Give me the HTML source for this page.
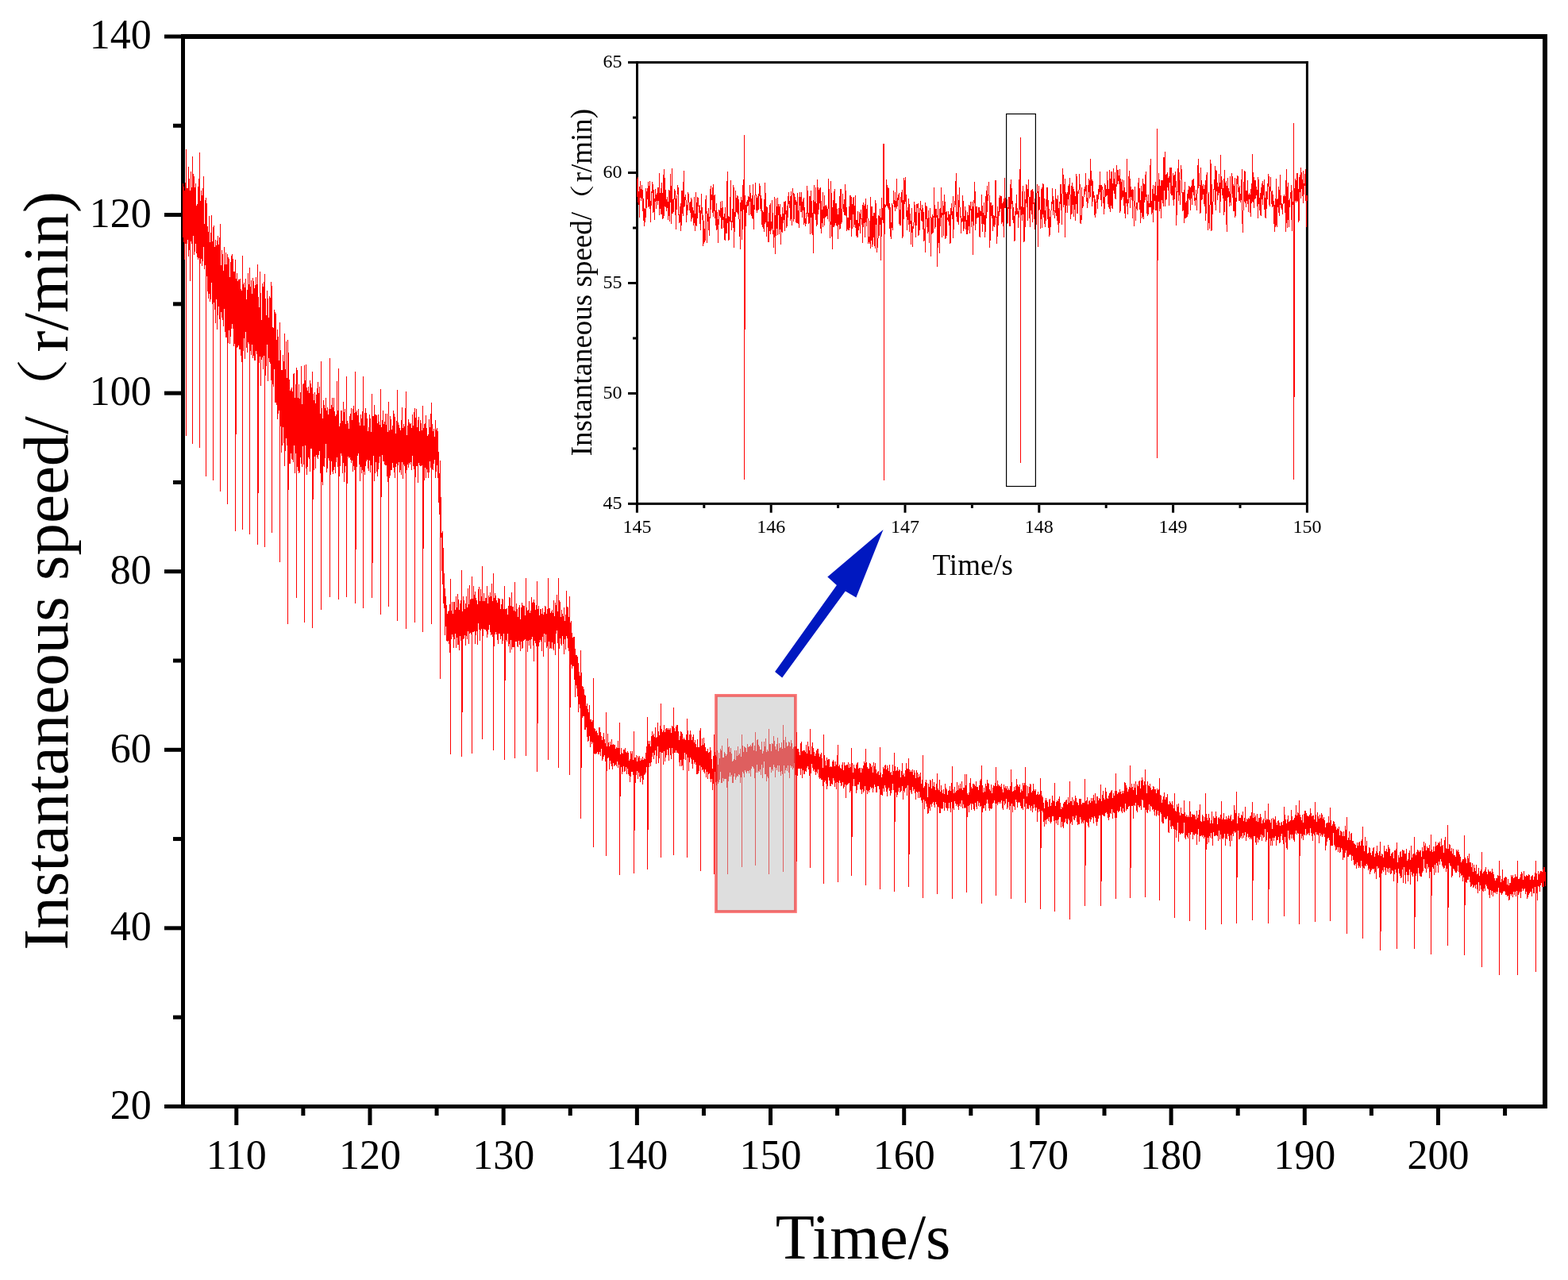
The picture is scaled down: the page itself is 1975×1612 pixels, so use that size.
<!DOCTYPE html>
<html><head><meta charset="utf-8"><title>Instantaneous speed</title><style>html,body{margin:0;padding:0;background:#fff;overflow:hidden}svg{display:block}text{font-family:"Liberation Serif","Noto Serif CJK SC",serif;fill:#000}</style></head><body>
<svg width="1975" height="1612" viewBox="0 0 1975 1612">
<rect width="1975" height="1612" fill="#fff"/>
<g fill="#000"><rect x="228" y="43" width="5" height="1353"/><rect x="1943" y="43" width="6" height="1353"/><rect x="228" y="43" width="1721" height="6"/><rect x="228" y="1391" width="1721" height="5"/><rect x="207" y="1390.92" width="21" height="5"/><rect x="218" y="1278.63" width="10" height="5"/><rect x="207" y="1166.35" width="21" height="5"/><rect x="218" y="1054.07" width="10" height="5"/><rect x="207" y="941.78" width="21" height="5"/><rect x="218" y="829.50" width="10" height="5"/><rect x="207" y="717.21" width="21" height="5"/><rect x="218" y="604.93" width="10" height="5"/><rect x="207" y="492.64" width="21" height="5"/><rect x="218" y="380.36" width="10" height="5"/><rect x="207" y="268.07" width="21" height="5"/><rect x="218" y="155.78" width="10" height="5"/><rect x="207" y="43.50" width="21" height="5"/><rect x="295.28" y="1396" width="5" height="21"/><rect x="379.37" y="1396" width="5" height="9"/><rect x="463.47" y="1396" width="5" height="21"/><rect x="547.56" y="1396" width="5" height="9"/><rect x="631.66" y="1396" width="5" height="21"/><rect x="715.75" y="1396" width="5" height="9"/><rect x="799.85" y="1396" width="5" height="21"/><rect x="883.94" y="1396" width="5" height="9"/><rect x="968.04" y="1396" width="5" height="21"/><rect x="1052.13" y="1396" width="5" height="9"/><rect x="1136.23" y="1396" width="5" height="21"/><rect x="1220.32" y="1396" width="5" height="9"/><rect x="1304.42" y="1396" width="5" height="21"/><rect x="1388.51" y="1396" width="5" height="9"/><rect x="1472.61" y="1396" width="5" height="21"/><rect x="1556.70" y="1396" width="5" height="9"/><rect x="1640.80" y="1396" width="5" height="21"/><rect x="1724.89" y="1396" width="5" height="9"/><rect x="1808.99" y="1396" width="5" height="21"/><rect x="1893.08" y="1396" width="5" height="9"/></g>
<g fill="none" stroke="#f00" stroke-width="1" shape-rendering="crispEdges"><path d="M230.5 231V299M231.5 235V305M232.5 240V327M233.5 230V307M234.5 229V312M235.5 237V307M236.5 237V302M237.5 210V323M238.5 225V315M239.5 240V354M240.5 216V304M241.5 236V307M242.5 227V305M243.5 219V297M244.5 222V321M245.5 236V317M246.5 231V307M247.5 259V319M248.5 257V324M249.5 235V327M250.5 225V325M251.5 275V321M252.5 253V332M253.5 240V326M254.5 246V335M255.5 237V329M256.5 222V311M257.5 282V339M258.5 252V334M259.5 256V355M260.5 256V348M261.5 285V367M262.5 292V376M263.5 272V370M264.5 305V380M265.5 293V377M266.5 271V356M267.5 304V383M268.5 306V368M269.5 284V381M270.5 311V390M271.5 302V407M272.5 309V377M273.5 303V415M274.5 297V397M275.5 308V386M276.5 299V402M277.5 305V391M278.5 334V393M279.5 315V400M280.5 320V403M281.5 341V411M282.5 311V389M283.5 333V418M284.5 318V425M285.5 333V425M286.5 335V425M287.5 324V432M288.5 326V416M289.5 349V433M290.5 330V424M291.5 322V414M292.5 320V408M293.5 326V414M294.5 342V436M295.5 342V433M296.5 366V428M297.5 351V416M298.5 344V438M299.5 354V437M300.5 352V435M301.5 352V440M302.5 351V440M303.5 364V448M304.5 366V456M305.5 348V442M306.5 358V442M307.5 356V426M308.5 362V452M309.5 351V418M310.5 377V438M311.5 365V444M312.5 344V431M313.5 358V433M314.5 368V460M315.5 361V442M316.5 353V447M317.5 370V434M318.5 350V451M319.5 354V448M320.5 363V454M321.5 359V454M322.5 349V442M323.5 358V446M324.5 356V429M325.5 374V480M326.5 387V457M327.5 342V449M328.5 369V486M329.5 403V453M330.5 357V450M331.5 361V465M332.5 355V448M333.5 389V454M334.5 376V473M335.5 397V461M336.5 366V434M337.5 376V480M338.5 400V451M339.5 373V456M340.5 375V458M341.5 355V479M342.5 390V468M343.5 412V484M344.5 413V487M345.5 390V465M346.5 393V507M347.5 395V507M348.5 428V510M349.5 415V528M350.5 424V521M351.5 454V517M352.5 426V541M353.5 441V537M354.5 466V570M355.5 466V561M356.5 447V538M357.5 455V558M358.5 420V587M359.5 465V568M360.5 430V552M361.5 476V561M362.5 468V559M363.5 444V572M364.5 478V584M365.5 492V584M366.5 490V571M367.5 488V578M368.5 493V579M369.5 471V582M370.5 470V561M371.5 501V596M372.5 484V571M373.5 478V582M374.5 466V588M375.5 501V593M376.5 484V596M377.5 502V595M378.5 494V576M379.5 461V584M380.5 509V588M381.5 484V562M382.5 483V585M383.5 468V601M384.5 479V561M385.5 459V590M386.5 488V598M387.5 492V588M388.5 487V576M389.5 495V578M390.5 479V594M391.5 483V565M392.5 488V565M393.5 504V580M394.5 496V596M395.5 504V592M396.5 494V575M397.5 508V590M398.5 497V573M399.5 489V576M400.5 481V578M401.5 495V573M402.5 487V568M403.5 521V596M404.5 493V577M405.5 514V607M406.5 527V611M407.5 504V587M408.5 510V588M409.5 514V577M410.5 501V559M411.5 517V595M412.5 513V590M413.5 522V577M414.5 515V580M415.5 501V553M416.5 515V598M417.5 510V581M418.5 501V594M419.5 513V597M420.5 501V592M421.5 518V588M422.5 524V596M423.5 522V582M424.5 480V576M425.5 517V588M426.5 517V602M427.5 537V600M428.5 533V587M429.5 517V571M430.5 517V574M431.5 530V596M432.5 506V583M433.5 519V607M434.5 515V595M435.5 534V587M436.5 542V592M437.5 530V609M438.5 533V575M439.5 540V577M440.5 524V576M441.5 521V579M442.5 514V583M443.5 529V580M444.5 515V594M445.5 511V587M446.5 520V592M447.5 523V587M448.5 519V594M449.5 517V588M450.5 523V574M451.5 515V571M452.5 532V585M453.5 536V606M454.5 522V588M455.5 527V596M456.5 518V592M457.5 546V594M458.5 536V594M459.5 520V598M460.5 514V587M461.5 520V581M462.5 527V579M463.5 543V590M464.5 538V593M465.5 522V580M466.5 527V595M467.5 544V586M468.5 537V607M469.5 524V580M470.5 524V574M471.5 510V606M472.5 522V596M473.5 522V582M474.5 523V594M475.5 533V600M476.5 522V591M477.5 531V583M478.5 535V575M479.5 539V601M480.5 538V599M481.5 529V573M482.5 517V581M483.5 534V581M484.5 531V585M485.5 521V586M486.5 535V586M487.5 521V600M488.5 544V607M489.5 526V592M490.5 542V602M491.5 524V599M492.5 528V592M493.5 541V592M494.5 536V583M495.5 517V589M496.5 521V595M497.5 525V602M498.5 546V588M499.5 530V584M500.5 554V589M501.5 532V586M502.5 535V582M503.5 539V595M504.5 542V592M505.5 529V598M506.5 513V582M507.5 539V603M508.5 534V585M509.5 537V587M510.5 514V596M511.5 524V602M512.5 548V592M513.5 536V585M514.5 528V589M515.5 532V583M516.5 534V585M517.5 533V582M518.5 539V592M519.5 522V574M520.5 536V587M521.5 519V591M522.5 539V590M523.5 526V601M524.5 515V587M525.5 538V587M526.5 529V608M527.5 525V583M528.5 543V586M529.5 529V587M530.5 533V587M531.5 542V586M532.5 538V585M533.5 539V585M534.5 534V605M535.5 533V589M536.5 523V602M537.5 539V591M538.5 549V595M539.5 547V602M540.5 528V595M541.5 538V581M542.5 521V589M543.5 527V584M544.5 534V591M545.5 543V592M546.5 540V584M547.5 550V579M548.5 529V602M549.5 541V594M550.5 539V586M551.5 543V602M552.5 569V633M553.5 596V648M554.5 605V666M555.5 626V677M556.5 671V719M557.5 669V736M558.5 690V760M559.5 722V766M560.5 741V800M561.5 751V789M562.5 762V807M563.5 773V808M564.5 770V807M565.5 769V811M566.5 761V822M567.5 763V815M568.5 769V805M569.5 758V799M570.5 773V802M571.5 758V816M572.5 758V805M573.5 768V798M574.5 751V816M575.5 765V803M576.5 748V812M577.5 755V812M578.5 768V819M579.5 760V801M580.5 756V807M581.5 748V799M582.5 770V807M583.5 751V805M584.5 756V804M585.5 767V800M586.5 760V813M587.5 751V801M588.5 765V805M589.5 741V795M590.5 761V811M591.5 737V798M592.5 755V797M593.5 754V799M594.5 759V815M595.5 754V796M596.5 738V796M597.5 749V795M598.5 745V811M599.5 753V800M600.5 756V795M601.5 761V812M602.5 742V785M603.5 739V793M604.5 757V807M605.5 742V794M606.5 751V792M607.5 757V813M608.5 757V801M609.5 747V792M610.5 757V793M611.5 753V793M612.5 753V795M613.5 738V803M614.5 760V799M615.5 750V793M616.5 752V787M617.5 746V796M618.5 751V800M619.5 735V799M620.5 757V802M621.5 763V792M622.5 753V814M623.5 747V799M624.5 750V796M625.5 756V799M626.5 759V806M627.5 753V811M628.5 754V798M629.5 754V798M630.5 767V805M631.5 761V801M632.5 754V811M633.5 755V807M634.5 767V798M635.5 767V798M636.5 767V813M637.5 767V806M638.5 766V808M639.5 774V798M640.5 763V814M641.5 752V811M642.5 753V822M643.5 763V806M644.5 746V818M645.5 764V815M646.5 764V815M647.5 769V815M648.5 778V828M649.5 770V808M650.5 760V808M651.5 767V814M652.5 777V815M653.5 765V807M654.5 762V812M655.5 780V820M656.5 765V808M657.5 759V817M658.5 762V816M659.5 763V807M660.5 763V806M661.5 775V805M662.5 764V802M663.5 765V807M664.5 769V821M665.5 768V807M666.5 757V813M667.5 772V806M668.5 769V817M669.5 752V805M670.5 759V802M671.5 758V813M672.5 755V833M673.5 759V807M674.5 768V810M675.5 762V814M676.5 761V815M677.5 767V817M678.5 763V814M679.5 775V809M680.5 767V806M681.5 767V808M682.5 773V820M683.5 766V802M684.5 774V827M685.5 771V798M686.5 763V809M687.5 764V799M688.5 773V816M689.5 767V814M690.5 764V796M691.5 766V808M692.5 766V817M693.5 772V816M694.5 770V817M695.5 768V809M696.5 772V817M697.5 756V819M698.5 776V811M699.5 759V825M700.5 762V798M701.5 749V794M702.5 770V810M703.5 755V802M704.5 756V817M705.5 758V804M706.5 777V811M707.5 768V813M708.5 773V801M709.5 776V811M710.5 765V824M711.5 782V805M712.5 774V818M713.5 744V801M714.5 764V804M715.5 765V816M716.5 777V820M717.5 773V825M718.5 784V825M719.5 782V837M720.5 797V842M721.5 803V839M722.5 802V839M723.5 802V856M724.5 817V878M725.5 825V863M726.5 825V867M727.5 827V877M728.5 835V897M729.5 846V887M730.5 851V892M731.5 850V894M732.5 847V903M733.5 864V904M734.5 865V902M735.5 868V902M736.5 875V919M737.5 876V919M738.5 889V916M739.5 886V928M740.5 893V934M741.5 897V933M742.5 888V927M743.5 906V941M744.5 906V934M745.5 909V937M746.5 907V935M747.5 915V943M748.5 917V949M749.5 918V950M750.5 921V949M751.5 920V949M752.5 923V947M753.5 926V950M754.5 916V950M755.5 916V947M756.5 922V952M757.5 927V943M758.5 932V958M759.5 928V956M760.5 923V953M761.5 931V951M762.5 936V959M763.5 938V965M764.5 940V971M765.5 924V955M766.5 935V954M767.5 940V969M768.5 934V958M769.5 938V962M770.5 931V965M771.5 938V969M772.5 937V961M773.5 938V965M774.5 938V964M775.5 943V963M776.5 941V965M777.5 942V959M778.5 933V967M779.5 942V963M780.5 938V958M781.5 950V973M782.5 942V966M783.5 948V975M784.5 949V972M785.5 944V965M786.5 944V972M787.5 942V971M788.5 947V966M789.5 948V975M790.5 946V968M791.5 948V975M792.5 958V977M793.5 956V985M794.5 946V978M795.5 949V972M796.5 946V972M797.5 957V976M798.5 954V972M799.5 954V979M800.5 954V986M801.5 951V976M802.5 959V971M803.5 952V981M804.5 954V973M805.5 952V978M806.5 958V985M807.5 955V977M808.5 957V980M809.5 953V988M810.5 957V982M811.5 955V976M812.5 956V975M813.5 948V973M814.5 940V966M815.5 951V976M816.5 933V965M817.5 937V966M818.5 933V961M819.5 940V965M820.5 927V960M821.5 921V953M822.5 926V948M823.5 924V956M824.5 928V951M825.5 916V945M826.5 929V962M827.5 928V952M828.5 910V940M829.5 921V961M830.5 926V955M831.5 914V947M832.5 924V953M833.5 918V948M834.5 922V948M835.5 920V963M836.5 913V946M837.5 922V959M838.5 918V954M839.5 917V951M840.5 917V944M841.5 919V951M842.5 917V958M843.5 919V942M844.5 917V951M845.5 923V956M846.5 914V942M847.5 915V949M848.5 913V944M849.5 917V948M850.5 921V948M851.5 915V945M852.5 913V948M853.5 913V948M854.5 921V949M855.5 932V960M856.5 927V965M857.5 921V957M858.5 922V965M859.5 924V964M860.5 931V970M861.5 929V956M862.5 931V948M863.5 932V957M864.5 925V950M865.5 928V958M866.5 920V954M867.5 932V971M868.5 925V960M869.5 920V954M870.5 925V956M871.5 932V962M872.5 928V968M873.5 925V957M874.5 935V962M875.5 932V960M876.5 937V963M877.5 941V975M878.5 931V975M879.5 941V974M880.5 941V971M881.5 920V964M882.5 940V970M883.5 939V966M884.5 930V970M885.5 938V969M886.5 929V972M887.5 936V974M888.5 941V969M889.5 946V979M890.5 946V972M891.5 943V981M892.5 948V975M893.5 947V974M894.5 941V981M895.5 945V985M896.5 956V981M897.5 968V995M898.5 952V987M899.5 944V980M900.5 947V972M901.5 951V985M902.5 953V989M903.5 945V984M904.5 963V987M905.5 948V985M906.5 955V982M907.5 943V972M908.5 945V986M909.5 939V986M910.5 954V980M911.5 954V984M912.5 947V981M913.5 949V981M914.5 952V981M915.5 950V992M916.5 951V989M917.5 941V984M918.5 940V978M919.5 947V973M920.5 942V978M921.5 949V976M922.5 959V986M923.5 958V986M924.5 956V978M925.5 945V974M926.5 957V982M927.5 945V979M928.5 952V977M929.5 940V978M930.5 951V975M931.5 949V976M932.5 943V986M933.5 953V979M934.5 944V977M935.5 939V972M936.5 947V974M937.5 940V979M938.5 941V970M939.5 942V972M940.5 947V974M941.5 937V971M942.5 941V971M943.5 940V974M944.5 940V970M945.5 938V978M946.5 940V968M947.5 936V965M948.5 935V966M949.5 945V968M950.5 939V980M951.5 942V964M952.5 946V973M953.5 932V963M954.5 931V973M955.5 938V971M956.5 940V972M957.5 944V969M958.5 944V976M959.5 934V963M960.5 949V980M961.5 946V967M962.5 934V959M963.5 940V975M964.5 930V975M965.5 947V984M966.5 944V978M967.5 946V980M968.5 944V979M969.5 937V966M970.5 937V966M971.5 946V973M972.5 936V969M973.5 937V971M974.5 927V963M975.5 933V966M976.5 940V979M977.5 944V967M978.5 937V970M979.5 929V964M980.5 946V972M981.5 936V964M982.5 942V972M983.5 941V977M984.5 935V971M985.5 943V975M986.5 944V963M987.5 932V964M988.5 942V974M989.5 928V970M990.5 935V967M991.5 940V971M992.5 939V964M993.5 934V973M994.5 935V980M995.5 940V964M996.5 932V967M997.5 936V965M998.5 943V969M999.5 941V967M1000.5 940V961M1001.5 940V976M1002.5 940V976M1003.5 939V977M1004.5 943V977M1005.5 943V968M1006.5 947V968M1007.5 951V968M1008.5 936V976M1009.5 934V968M1010.5 946V980M1011.5 945V970M1012.5 945V975M1013.5 945V975M1014.5 947V971M1015.5 938V972M1016.5 949V967M1017.5 934V965M1018.5 940V969M1019.5 945V977M1020.5 944V977M1021.5 950V974M1022.5 940V962M1023.5 935V967M1024.5 942V971M1025.5 947V969M1026.5 952V972M1027.5 949V976M1028.5 945V972M1029.5 943V974M1030.5 943V969M1031.5 949V979M1032.5 953V981M1033.5 950V980M1034.5 948V982M1035.5 955V982M1036.5 967V990M1037.5 967V988M1038.5 951V985M1039.5 958V983M1040.5 964V987M1041.5 954V994M1042.5 957V990M1043.5 956V979M1044.5 956V983M1045.5 966V990M1046.5 965V990M1047.5 966V987M1048.5 959V988M1049.5 957V980M1050.5 959V983M1051.5 965V991M1052.5 959V986M1053.5 963V994M1054.5 951V985M1055.5 966V990M1056.5 965V986M1057.5 963V983M1058.5 967V986M1059.5 968V990M1060.5 963V989M1061.5 960V985M1062.5 970V993M1063.5 960V991M1064.5 964V988M1065.5 964V1005M1066.5 963V989M1067.5 963V988M1068.5 960V987M1069.5 967V986M1070.5 962V998M1071.5 966V996M1072.5 963V988M1073.5 961V995M1074.5 973V990M1075.5 963V981M1076.5 967V990M1077.5 968V990M1078.5 963V999M1079.5 961V995M1080.5 960V988M1081.5 968V988M1082.5 967V985M1083.5 967V994M1084.5 973V995M1085.5 967V1000M1086.5 968V994M1087.5 964V998M1088.5 959V996M1089.5 961V990M1090.5 966V991M1091.5 960V995M1092.5 966V1000M1093.5 968V996M1094.5 968V998M1095.5 961V995M1096.5 962V991M1097.5 966V993M1098.5 964V992M1099.5 973V998M1100.5 960V993M1101.5 965V988M1102.5 961V991M1103.5 969V998M1104.5 974V998M1105.5 972V990M1106.5 971V990M1107.5 976V994M1108.5 974V999M1109.5 973V1001M1110.5 979V1001M1111.5 975V1002M1112.5 966V993M1113.5 968V997M1114.5 964V989M1115.5 963V992M1116.5 969V997M1117.5 964V1003M1118.5 967V994M1119.5 971V992M1120.5 963V996M1121.5 973V1002M1122.5 972V999M1123.5 976V995M1124.5 963V987M1125.5 971V995M1126.5 968V998M1127.5 965V992M1128.5 971V998M1129.5 970V1004M1130.5 966V1001M1131.5 971V997M1132.5 969V992M1133.5 970V998M1134.5 979V997M1135.5 971V996M1136.5 961V990M1137.5 976V1007M1138.5 974V996M1139.5 978V998M1140.5 970V993M1141.5 961V992M1142.5 968V1002M1143.5 968V989M1144.5 966V990M1145.5 969V996M1146.5 972V995M1147.5 970V998M1148.5 972V1000M1149.5 969V991M1150.5 976V996M1151.5 970V994M1152.5 973V999M1153.5 980V1007M1154.5 970V997M1155.5 973V998M1156.5 979V1005M1157.5 975V997M1158.5 978V1005M1159.5 973V1004M1160.5 987V1008M1161.5 982V1011M1162.5 988V1009M1163.5 992V1007M1164.5 990V1019M1165.5 985V1009M1166.5 982V1012M1167.5 986V1016M1168.5 1004V1025M1169.5 987V1024M1170.5 991V1018M1171.5 982V1021M1172.5 983V1013M1173.5 993V1016M1174.5 981V1012M1175.5 990V1010M1176.5 985V1014M1177.5 991V1017M1178.5 995V1010M1179.5 987V1013M1180.5 993V1018M1181.5 993V1016M1182.5 995V1017M1183.5 982V1024M1184.5 997V1024M1185.5 989V1018M1186.5 995V1019M1187.5 999V1018M1188.5 994V1010M1189.5 1000V1021M1190.5 987V1011M1191.5 992V1017M1192.5 994V1018M1193.5 1001V1021M1194.5 996V1018M1195.5 995V1011M1196.5 990V1018M1197.5 996V1023M1198.5 986V1010M1199.5 994V1024M1200.5 994V1018M1201.5 999V1020M1202.5 991V1009M1203.5 998V1012M1204.5 996V1015M1205.5 985V1013M1206.5 995V1016M1207.5 989V1020M1208.5 993V1015M1209.5 987V1012M1210.5 993V1016M1211.5 984V1008M1212.5 995V1018M1213.5 992V1013M1214.5 992V1018M1215.5 975V1017M1216.5 989V1018M1217.5 988V1011M1218.5 999V1029M1219.5 1001V1015M1220.5 998V1023M1221.5 986V1014M1222.5 980V1012M1223.5 991V1020M1224.5 993V1012M1225.5 987V1013M1226.5 987V1019M1227.5 988V1021M1228.5 990V1011M1229.5 984V1016M1230.5 991V1019M1231.5 991V1009M1232.5 995V1015M1233.5 989V1011M1234.5 983V1016M1235.5 981V1015M1236.5 996V1020M1237.5 989V1023M1238.5 998V1018M1239.5 992V1018M1240.5 997V1014M1241.5 987V1021M1242.5 990V1012M1243.5 982V1007M1244.5 986V1012M1245.5 987V1018M1246.5 994V1021M1247.5 996V1018M1248.5 988V1019M1249.5 999V1018M1250.5 992V1012M1251.5 989V1011M1252.5 990V1008M1253.5 986V1012M1254.5 983V1017M1255.5 990V1012M1256.5 983V1014M1257.5 988V1010M1258.5 990V1012M1259.5 989V1010M1260.5 991V1012M1261.5 987V1008M1262.5 994V1018M1263.5 998V1020M1264.5 988V1009M1265.5 992V1014M1266.5 990V1012M1267.5 993V1006M1268.5 990V1019M1269.5 995V1017M1270.5 993V1010M1271.5 995V1020M1272.5 990V1015M1273.5 994V1018M1274.5 985V1012M1275.5 997V1023M1276.5 996V1015M1277.5 991V1016M1278.5 995V1020M1279.5 990V1007M1280.5 981V1010M1281.5 988V1017M1282.5 990V1011M1283.5 991V1010M1284.5 988V1011M1285.5 998V1015M1286.5 994V1018M1287.5 996V1018M1288.5 986V1020M1289.5 989V1006M1290.5 986V1016M1291.5 992V1016M1292.5 989V1012M1293.5 1003V1019M1294.5 990V1018M1295.5 999V1019M1296.5 991V1014M1297.5 987V1017M1298.5 988V1021M1299.5 998V1015M1300.5 996V1023M1301.5 987V1018M1302.5 994V1013M1303.5 996V1017M1304.5 994V1021M1305.5 1001V1017M1306.5 1000V1035M1307.5 997V1023M1308.5 1001V1019M1309.5 1000V1022M1310.5 997V1022M1311.5 996V1026M1312.5 1002V1021M1313.5 1004V1023M1314.5 1011V1035M1315.5 1018V1041M1316.5 1008V1033M1317.5 1005V1038M1318.5 1008V1032M1319.5 1010V1031M1320.5 1016V1034M1321.5 1007V1029M1322.5 1006V1035M1323.5 1015V1037M1324.5 1011V1035M1325.5 1002V1028M1326.5 1008V1028M1327.5 1009V1034M1328.5 1005V1031M1329.5 1015V1033M1330.5 1010V1037M1331.5 1008V1033M1332.5 1009V1039M1333.5 1006V1032M1334.5 1003V1029M1335.5 1011V1029M1336.5 1019V1042M1337.5 1016V1035M1338.5 1017V1041M1339.5 1012V1043M1340.5 1010V1036M1341.5 1010V1035M1342.5 1008V1031M1343.5 1007V1037M1344.5 1013V1038M1345.5 1004V1031M1346.5 1011V1033M1347.5 1004V1031M1348.5 1009V1037M1349.5 1009V1035M1350.5 1004V1039M1351.5 1014V1028M1352.5 1007V1032M1353.5 1009V1033M1354.5 1002V1030M1355.5 1005V1027M1356.5 1010V1035M1357.5 1011V1039M1358.5 1014V1038M1359.5 1006V1038M1360.5 1006V1029M1361.5 1006V1032M1362.5 1013V1037M1363.5 1011V1035M1364.5 1011V1037M1365.5 1011V1033M1366.5 1012V1031M1367.5 1009V1032M1368.5 1008V1035M1369.5 1004V1036M1370.5 1013V1040M1371.5 1009V1042M1372.5 1008V1031M1373.5 1011V1035M1374.5 1005V1032M1375.5 1009V1029M1376.5 1005V1030M1377.5 1001V1037M1378.5 1008V1028M1379.5 999V1030M1380.5 1012V1035M1381.5 1003V1040M1382.5 1003V1035M1383.5 1008V1031M1384.5 1005V1027M1385.5 1006V1027M1386.5 1006V1034M1387.5 1009V1031M1388.5 1001V1026M1389.5 996V1027M1390.5 1005V1028M1391.5 1007V1028M1392.5 992V1024M1393.5 997V1023M1394.5 1005V1025M1395.5 1006V1030M1396.5 1002V1033M1397.5 999V1029M1398.5 998V1024M1399.5 996V1025M1400.5 995V1019M1401.5 1005V1031M1402.5 999V1023M1403.5 1002V1024M1404.5 996V1030M1405.5 1003V1028M1406.5 996V1030M1407.5 1000V1021M1408.5 998V1023M1409.5 998V1022M1410.5 994V1021M1411.5 997V1016M1412.5 1000V1022M1413.5 996V1024M1414.5 999V1018M1415.5 996V1022M1416.5 985V1023M1417.5 986V1012M1418.5 989V1021M1419.5 992V1019M1420.5 997V1019M1421.5 994V1016M1422.5 991V1015M1423.5 994V1019M1424.5 992V1014M1425.5 987V1015M1426.5 991V1015M1427.5 995V1031M1428.5 987V1014M1429.5 992V1015M1430.5 984V1011M1431.5 1001V1021M1432.5 988V1023M1433.5 990V1014M1434.5 984V1016M1435.5 983V1017M1436.5 993V1015M1437.5 983V1020M1438.5 979V1007M1439.5 982V1008M1440.5 989V1017M1441.5 984V1017M1442.5 994V1016M1443.5 988V1020M1444.5 999V1023M1445.5 984V1024M1446.5 989V1020M1447.5 990V1013M1448.5 987V1022M1449.5 992V1015M1450.5 995V1016M1451.5 994V1020M1452.5 990V1019M1453.5 991V1022M1454.5 994V1027M1455.5 994V1020M1456.5 999V1028M1457.5 993V1026M1458.5 995V1021M1459.5 994V1027M1460.5 1006V1027M1461.5 1001V1023M1462.5 1002V1025M1463.5 1011V1035M1464.5 1007V1037M1465.5 1003V1037M1466.5 998V1029M1467.5 1007V1031M1468.5 1004V1032M1469.5 1004V1031M1470.5 1000V1028M1471.5 1013V1048M1472.5 1013V1049M1473.5 1009V1033M1474.5 1011V1041M1475.5 1013V1044M1476.5 1009V1040M1477.5 1014V1041M1478.5 1018V1044M1479.5 1015V1040M1480.5 1021V1045M1481.5 1022V1055M1482.5 1013V1046M1483.5 1016V1036M1484.5 1012V1060M1485.5 1023V1049M1486.5 1027V1051M1487.5 1017V1050M1488.5 1024V1049M1489.5 1025V1050M1490.5 1025V1049M1491.5 1008V1036M1492.5 1023V1055M1493.5 1028V1057M1494.5 1026V1052M1495.5 1029V1054M1496.5 1027V1056M1497.5 1029V1049M1498.5 1028V1048M1499.5 1022V1051M1500.5 1029V1048M1501.5 1025V1048M1502.5 1026V1057M1503.5 1026V1051M1504.5 1026V1052M1505.5 1028V1050M1506.5 1032V1050M1507.5 1021V1064M1508.5 1030V1051M1509.5 1026V1044M1510.5 1020V1060M1511.5 1013V1053M1512.5 1034V1053M1513.5 1035V1052M1514.5 1026V1054M1515.5 1028V1052M1516.5 1034V1056M1517.5 1029V1054M1518.5 1031V1057M1519.5 1025V1070M1520.5 1030V1063M1521.5 1033V1055M1522.5 1025V1061M1523.5 1030V1053M1524.5 1037V1055M1525.5 1033V1049M1526.5 1022V1056M1527.5 1037V1065M1528.5 1028V1048M1529.5 1030V1053M1530.5 1030V1053M1531.5 1022V1052M1532.5 1028V1052M1533.5 1038V1053M1534.5 1030V1059M1535.5 1029V1046M1536.5 1031V1057M1537.5 1026V1051M1538.5 1036V1054M1539.5 1032V1056M1540.5 1030V1057M1541.5 1024V1055M1542.5 1032V1050M1543.5 1032V1065M1544.5 1028V1056M1545.5 1032V1057M1546.5 1030V1050M1547.5 1027V1053M1548.5 1031V1059M1549.5 1028V1066M1550.5 1026V1052M1551.5 1034V1059M1552.5 1032V1050M1553.5 1032V1053M1554.5 1014V1047M1555.5 1020V1049M1556.5 1024V1048M1557.5 1030V1054M1558.5 1037V1058M1559.5 1028V1046M1560.5 1024V1057M1561.5 1030V1057M1562.5 1030V1055M1563.5 1026V1053M1564.5 1027V1056M1565.5 1022V1049M1566.5 1034V1055M1567.5 1030V1052M1568.5 1016V1048M1569.5 1035V1059M1570.5 1031V1054M1571.5 1032V1050M1572.5 1030V1055M1573.5 1031V1054M1574.5 1028V1057M1575.5 1027V1055M1576.5 1023V1057M1577.5 1033V1059M1578.5 1030V1049M1579.5 1024V1053M1580.5 1029V1053M1581.5 1027V1061M1582.5 1034V1064M1583.5 1025V1055M1584.5 1035V1061M1585.5 1030V1057M1586.5 1030V1058M1587.5 1025V1054M1588.5 1029V1051M1589.5 1037V1059M1590.5 1033V1052M1591.5 1031V1055M1592.5 1036V1054M1593.5 1021V1044M1594.5 1033V1060M1595.5 1031V1058M1596.5 1032V1048M1597.5 1033V1055M1598.5 1032V1051M1599.5 1033V1056M1600.5 1036V1065M1601.5 1031V1059M1602.5 1044V1065M1603.5 1030V1055M1604.5 1032V1059M1605.5 1032V1055M1606.5 1028V1053M1607.5 1036V1065M1608.5 1039V1058M1609.5 1034V1058M1610.5 1033V1054M1611.5 1036V1062M1612.5 1040V1061M1613.5 1036V1053M1614.5 1035V1050M1615.5 1039V1058M1616.5 1034V1063M1617.5 1036V1058M1618.5 1026V1054M1619.5 1032V1061M1620.5 1037V1068M1621.5 1032V1070M1622.5 1027V1046M1623.5 1035V1056M1624.5 1034V1058M1625.5 1033V1051M1626.5 1020V1056M1627.5 1028V1051M1628.5 1033V1056M1629.5 1032V1058M1630.5 1030V1060M1631.5 1026V1050M1632.5 1014V1046M1633.5 1027V1051M1634.5 1023V1049M1635.5 1024V1050M1636.5 1023V1047M1637.5 1026V1051M1638.5 1029V1050M1639.5 1033V1056M1640.5 1026V1053M1641.5 1036V1058M1642.5 1025V1051M1643.5 1021V1052M1644.5 1021V1044M1645.5 1024V1052M1646.5 1027V1050M1647.5 1028V1051M1648.5 1028V1049M1649.5 1026V1052M1650.5 1018V1043M1651.5 1024V1049M1652.5 1028V1053M1653.5 1027V1059M1654.5 1027V1050M1655.5 1032V1052M1656.5 1029V1051M1657.5 1026V1048M1658.5 1035V1051M1659.5 1023V1051M1660.5 1028V1052M1661.5 1031V1062M1662.5 1026V1049M1663.5 1030V1053M1664.5 1024V1051M1665.5 1026V1054M1666.5 1031V1052M1667.5 1029V1050M1668.5 1033V1054M1669.5 1042V1071M1670.5 1037V1065M1671.5 1036V1060M1672.5 1036V1056M1673.5 1028V1055M1674.5 1036V1058M1675.5 1041V1060M1676.5 1033V1065M1677.5 1040V1065M1678.5 1038V1065M1679.5 1034V1049M1680.5 1035V1064M1681.5 1038V1066M1682.5 1041V1071M1683.5 1045V1070M1684.5 1043V1067M1685.5 1044V1073M1686.5 1041V1067M1687.5 1052V1074M1688.5 1046V1073M1689.5 1047V1068M1690.5 1048V1070M1691.5 1053V1083M1692.5 1047V1080M1693.5 1053V1080M1694.5 1040V1074M1695.5 1045V1071M1696.5 1054V1074M1697.5 1058V1079M1698.5 1055V1079M1699.5 1047V1077M1700.5 1058V1076M1701.5 1050V1077M1702.5 1049V1084M1703.5 1059V1078M1704.5 1059V1083M1705.5 1062V1089M1706.5 1063V1090M1707.5 1064V1088M1708.5 1068V1094M1709.5 1061V1086M1710.5 1065V1090M1711.5 1061V1093M1712.5 1060V1091M1713.5 1065V1093M1714.5 1059V1084M1715.5 1057V1091M1716.5 1067V1095M1717.5 1065V1093M1718.5 1072V1094M1719.5 1054V1090M1720.5 1065V1091M1721.5 1059V1088M1722.5 1075V1090M1723.5 1074V1096M1724.5 1067V1094M1725.5 1068V1101M1726.5 1074V1098M1727.5 1077V1096M1728.5 1072V1094M1729.5 1068V1095M1730.5 1067V1094M1731.5 1079V1100M1732.5 1075V1098M1733.5 1072V1107M1734.5 1065V1091M1735.5 1074V1094M1736.5 1077V1093M1737.5 1072V1105M1738.5 1067V1097M1739.5 1078V1111M1740.5 1075V1100M1741.5 1076V1096M1742.5 1080V1098M1743.5 1065V1092M1744.5 1072V1096M1745.5 1072V1102M1746.5 1069V1093M1747.5 1073V1098M1748.5 1064V1094M1749.5 1067V1099M1750.5 1069V1093M1751.5 1078V1101M1752.5 1075V1100M1753.5 1074V1096M1754.5 1073V1097M1755.5 1081V1110M1756.5 1071V1101M1757.5 1071V1095M1758.5 1069V1099M1759.5 1076V1099M1760.5 1086V1112M1761.5 1077V1094M1762.5 1080V1100M1763.5 1073V1103M1764.5 1072V1106M1765.5 1079V1105M1766.5 1070V1095M1767.5 1071V1112M1768.5 1071V1092M1769.5 1075V1102M1770.5 1075V1113M1771.5 1069V1098M1772.5 1084V1102M1773.5 1082V1110M1774.5 1074V1102M1775.5 1071V1095M1776.5 1083V1114M1777.5 1065V1098M1778.5 1080V1102M1779.5 1076V1104M1780.5 1075V1100M1781.5 1075V1097M1782.5 1075V1096M1783.5 1077V1103M1784.5 1073V1100M1785.5 1070V1110M1786.5 1071V1093M1787.5 1073V1100M1788.5 1071V1103M1789.5 1071V1104M1790.5 1079V1104M1791.5 1067V1099M1792.5 1072V1097M1793.5 1060V1082M1794.5 1065V1093M1795.5 1062V1094M1796.5 1071V1099M1797.5 1066V1088M1798.5 1068V1094M1799.5 1068V1092M1800.5 1064V1106M1801.5 1072V1098M1802.5 1067V1095M1803.5 1070V1094M1804.5 1073V1092M1805.5 1066V1094M1806.5 1072V1102M1807.5 1066V1089M1808.5 1060V1099M1809.5 1065V1087M1810.5 1064V1090M1811.5 1061V1099M1812.5 1062V1085M1813.5 1060V1089M1814.5 1066V1082M1815.5 1056V1085M1816.5 1065V1090M1817.5 1064V1092M1818.5 1074V1094M1819.5 1058V1093M1820.5 1054V1090M1821.5 1068V1098M1822.5 1069V1094M1823.5 1057V1096M1824.5 1069V1087M1825.5 1063V1087M1826.5 1064V1090M1827.5 1072V1091M1828.5 1068V1105M1829.5 1075V1103M1830.5 1069V1094M1831.5 1077V1095M1832.5 1077V1097M1833.5 1079V1099M1834.5 1070V1099M1835.5 1072V1097M1836.5 1070V1090M1837.5 1073V1098M1838.5 1076V1105M1839.5 1079V1100M1840.5 1086V1103M1841.5 1084V1102M1842.5 1082V1110M1843.5 1082V1105M1844.5 1079V1109M1845.5 1080V1104M1846.5 1082V1111M1847.5 1087V1112M1848.5 1078V1108M1849.5 1081V1108M1850.5 1075V1104M1851.5 1086V1111M1852.5 1086V1117M1853.5 1092V1116M1854.5 1087V1114M1855.5 1098V1118M1856.5 1089V1117M1857.5 1093V1115M1858.5 1097V1119M1859.5 1089V1114M1860.5 1101V1120M1861.5 1100V1125M1862.5 1093V1111M1863.5 1103V1122M1864.5 1097V1115M1865.5 1095V1120M1866.5 1092V1115M1867.5 1100V1122M1868.5 1098V1123M1869.5 1097V1119M1870.5 1095V1122M1871.5 1092V1114M1872.5 1098V1116M1873.5 1101V1119M1874.5 1095V1120M1875.5 1097V1127M1876.5 1098V1131M1877.5 1097V1121M1878.5 1099V1127M1879.5 1094V1122M1880.5 1098V1129M1881.5 1101V1124M1882.5 1106V1124M1883.5 1109V1125M1884.5 1106V1123M1885.5 1106V1126M1886.5 1102V1123M1887.5 1103V1118M1888.5 1102V1124M1889.5 1103V1124M1890.5 1111V1125M1891.5 1107V1127M1892.5 1095V1125M1893.5 1109V1123M1894.5 1106V1122M1895.5 1105V1123M1896.5 1104V1127M1897.5 1105V1127M1898.5 1114V1129M1899.5 1107V1128M1900.5 1115V1134M1901.5 1112V1133M1902.5 1112V1126M1903.5 1102V1128M1904.5 1104V1126M1905.5 1102V1130M1906.5 1106V1123M1907.5 1105V1127M1908.5 1101V1123M1909.5 1104V1129M1910.5 1104V1122M1911.5 1110V1126M1912.5 1107V1127M1913.5 1107V1125M1914.5 1105V1123M1915.5 1101V1131M1916.5 1098V1123M1917.5 1100V1119M1918.5 1108V1122M1919.5 1097V1120M1920.5 1103V1119M1921.5 1104V1126M1922.5 1102V1123M1923.5 1103V1132M1924.5 1103V1130M1925.5 1101V1127M1926.5 1102V1125M1927.5 1108V1123M1928.5 1104V1123M1929.5 1103V1129M1930.5 1102V1119M1931.5 1108V1125M1932.5 1104V1125M1933.5 1099V1117M1934.5 1099V1124M1935.5 1100V1125M1936.5 1108V1134M1937.5 1097V1116M1938.5 1101V1117M1939.5 1099V1123M1940.5 1097V1115M1941.5 1097V1112M1942.5 1098V1117M1943.5 1095V1117M1944.5 1092V1117M1945.5 1092V1110M1946.5 1098V1116"/><path d="M234.5 188V549M242.5 197V559M251.5 192V564M259.5 249V600M268.5 286V605M277.5 282V619M286.5 320V635M296.5 327V669M297.5 387V547M305.5 322V667M314.5 337V673M324.5 333V686M325.5 404V621M333.5 345V689M342.5 360V671M352.5 406V708M362.5 428V786M363.5 523V617M373.5 463V753M383.5 460V784M393.5 468V791M394.5 536V629M404.5 455V768M415.5 451V752M426.5 464V755M436.5 474V752M447.5 468V760M448.5 557V692M457.5 474V766M468.5 496V753M469.5 559V709M479.5 490V774M480.5 560V626M489.5 506V764M500.5 491V782M511.5 493V792M522.5 514V784M532.5 511V796M533.5 559V691M543.5 507V786M554.5 580V855M567.5 729V950M581.5 718V953M582.5 782V897M594.5 726V949M607.5 713V931M621.5 722V945M635.5 738V957M636.5 786V857M648.5 733V955M662.5 728V952M676.5 732V972M677.5 789V911M690.5 728V957M703.5 728V967M717.5 751V976M718.5 800V891M731.5 819V1031M732.5 872V967M747.5 854V1067M763.5 897V1078M780.5 910V1102M781.5 954V1003M798.5 921V1100M799.5 964V1046M815.5 903V1095M816.5 957V1045M832.5 886V1080M848.5 891V1077M865.5 905V1080M882.5 917V1097M899.5 925V1101M916.5 930V1101M934.5 925V1092M951.5 922V1090M968.5 918V1101M986.5 913V1098M1003.5 922V1085M1020.5 918V1093M1037.5 925V1113M1055.5 938V1111M1072.5 942V1103M1073.5 978V1054M1090.5 943V1115M1108.5 941V1120M1126.5 948V1123M1127.5 982V1035M1144.5 955V1117M1145.5 983V1076M1162.5 951V1131M1180.5 974V1126M1199.5 965V1132M1217.5 975V1124M1236.5 964V1138M1254.5 966V1128M1273.5 969V1132M1291.5 966V1137M1310.5 980V1145M1311.5 1014V1068M1328.5 986V1148M1347.5 984V1158M1366.5 981V1141M1367.5 1021V1090M1386.5 988V1141M1387.5 1017V1110M1405.5 974V1132M1423.5 964V1131M1424.5 1003V1093M1442.5 969V1130M1460.5 980V1134M1479.5 999V1156M1498.5 1009V1160M1518.5 999V1171M1538.5 1009V1164M1557.5 997V1163M1558.5 1039V1105M1577.5 1010V1159M1578.5 1042V1109M1597.5 1012V1163M1598.5 1045V1120M1617.5 1016V1154M1636.5 1008V1164M1637.5 1039V1078M1656.5 1010V1161M1675.5 1017V1160M1696.5 1029V1176M1716.5 1041V1182M1738.5 1060V1197M1739.5 1086V1173M1759.5 1061V1195M1781.5 1054V1195M1782.5 1088V1155M1802.5 1051V1202M1803.5 1080V1128M1823.5 1039V1191M1824.5 1077V1143M1844.5 1052V1203M1845.5 1093V1140M1866.5 1073V1218M1888.5 1084V1228M1911.5 1084V1228M1934.5 1084V1224"/></g>
<rect x="901.95" y="875.85" width="100" height="272.2" fill="rgb(190,190,190)" fill-opacity="0.5" stroke="rgb(245,0,0)" stroke-opacity="0.54" stroke-width="3.7"/>
<g font-size="52"><text x="190.8" y="1408.6" text-anchor="end">20</text><text x="190.8" y="1184.1" text-anchor="end">40</text><text x="190.8" y="959.5" text-anchor="end">60</text><text x="190.8" y="734.9" text-anchor="end">80</text><text x="190.8" y="510.3" text-anchor="end">100</text><text x="190.8" y="285.8" text-anchor="end">120</text><text x="190.8" y="61.2" text-anchor="end">140</text><text x="297.8" y="1472" text-anchor="middle">110</text><text x="466.0" y="1472" text-anchor="middle">120</text><text x="634.2" y="1472" text-anchor="middle">130</text><text x="802.3" y="1472" text-anchor="middle">140</text><text x="970.5" y="1472" text-anchor="middle">150</text><text x="1138.7" y="1472" text-anchor="middle">160</text><text x="1306.9" y="1472" text-anchor="middle">170</text><text x="1475.1" y="1472" text-anchor="middle">180</text><text x="1643.3" y="1472" text-anchor="middle">190</text><text x="1811.5" y="1472" text-anchor="middle">200</text></g>
<text x="1087" y="1585" font-size="80.5" text-anchor="middle">Time/s</text>
<g transform="translate(84.5 1196.7) rotate(-90)"><text x="0" y="0" font-size="81">Instantaneous speed/</text></g>
<g transform="translate(78.1 530) rotate(-90) scale(1.2 1)"><text x="0" y="0" font-size="66" style="font-family:&quot;Noto Serif CJK SC&quot;,serif">（</text></g>
<g transform="translate(84.5 443.5) rotate(-90)"><text x="0" y="0" font-size="81">r/min)</text></g>
<g fill="#000"><rect x="801" y="77.1" width="3" height="558.8"/><rect x="1644.9" y="77.1" width="3" height="558.8"/><rect x="801" y="77.1" width="846.8" height="3"/><rect x="801" y="632.9" width="846.8" height="3"/><rect x="791" y="632.90" width="10" height="3"/><rect x="797" y="563.42" width="4" height="3"/><rect x="791" y="493.95" width="10" height="3"/><rect x="797" y="424.48" width="4" height="3"/><rect x="791" y="355.00" width="10" height="3"/><rect x="797" y="285.52" width="4" height="3"/><rect x="791" y="216.05" width="10" height="3"/><rect x="797" y="146.57" width="4" height="3"/><rect x="791" y="77.10" width="10" height="3"/><rect x="800.90" y="635.9" width="3" height="9.8"/><rect x="885.30" y="635.9" width="3" height="4"/><rect x="969.70" y="635.9" width="3" height="9.8"/><rect x="1054.10" y="635.9" width="3" height="4"/><rect x="1138.50" y="635.9" width="3" height="9.8"/><rect x="1222.90" y="635.9" width="3" height="4"/><rect x="1307.30" y="635.9" width="3" height="9.8"/><rect x="1391.70" y="635.9" width="3" height="4"/><rect x="1476.10" y="635.9" width="3" height="9.8"/><rect x="1560.50" y="635.9" width="3" height="4"/><rect x="1644.90" y="635.9" width="3" height="9.8"/></g>
<path d="M802.4 248.5 802.8 226.5 803.2 223.1 803.5 250.6 803.9 253.8 804.3 258.1 804.7 240.9 805.0 246.6 805.4 234.6 805.8 274.2 806.2 227.7 806.5 243.5 806.9 234.8 807.3 246.3 807.7 253.4 808.0 241.5 808.4 232.9 808.8 248.0 809.2 251.3 809.5 238.6 809.9 261.3 810.3 277.8 810.7 250.5 811.0 261.4 811.4 284.7 811.8 272.3 812.2 263.4 812.5 273.1 812.9 280.4 813.3 256.9 813.7 236.8 814.0 250.4 814.4 262.2 814.8 246.5 815.2 237.0 815.5 251.2 815.9 240.7 816.3 229.5 816.7 247.0 817.0 261.1 817.4 245.3 817.8 242.8 818.2 227.9 818.5 263.4 818.9 262.0 819.3 264.6 819.7 280.2 820.0 253.8 820.4 240.9 820.8 259.0 821.2 228.8 821.5 231.0 821.9 235.0 822.3 240.0 822.7 232.3 823.0 268.1 823.4 245.0 823.8 239.4 824.2 276.9 824.5 251.3 824.9 254.6 825.3 238.4 825.7 254.3 826.0 251.4 826.4 244.8 826.8 263.4 827.2 244.0 827.5 251.0 827.9 243.3 828.3 258.4 828.7 236.0 829.0 238.7 829.4 252.5 829.8 242.8 830.2 230.1 830.5 218.3 830.9 270.7 831.3 243.4 831.7 243.5 832.0 252.6 832.4 269.8 832.8 236.7 833.2 269.8 833.5 247.8 833.9 230.1 834.3 273.2 834.7 262.6 835.0 276.4 835.4 254.3 835.8 227.9 836.2 213.0 836.5 271.8 836.9 266.7 837.3 244.5 837.7 224.5 838.0 238.6 838.4 261.4 838.8 250.1 839.2 252.6 839.5 256.5 839.9 266.4 840.3 250.7 840.7 248.3 841.0 254.4 841.4 258.2 841.8 276.8 842.2 268.4 842.5 238.7 842.9 254.4 843.3 279.0 843.7 239.9 844.0 243.6 844.4 218.8 844.8 246.5 845.2 262.1 845.5 282.4 845.9 242.1 846.3 211.6 846.7 259.7 847.0 268.9 847.4 250.7 847.8 269.4 848.2 264.6 848.5 264.4 848.9 255.2 849.3 237.8 849.7 250.8 850.0 239.1 850.4 258.0 850.8 250.5 851.2 289.1 851.5 287.5 851.9 250.5 852.3 264.2 852.7 248.7 853.0 245.8 853.4 232.6 853.8 238.0 854.2 236.3 854.5 254.7 854.9 269.2 855.3 273.6 855.7 270.8 856.0 280.7 856.4 273.5 856.8 264.0 857.2 255.9 857.5 263.3 857.9 291.0 858.3 267.5 858.7 256.7 859.0 240.0 859.4 244.1 859.8 265.2 860.2 271.8 860.5 228.8 860.9 238.6 861.3 223.5 861.7 214.9 862.0 260.9 862.4 252.7 862.8 249.3 863.2 246.7 863.5 246.1 863.9 251.2 864.3 252.8 864.7 280.4 865.0 265.4 865.4 271.1 865.8 258.3 866.2 265.0 866.5 249.0 866.9 241.9 867.3 248.7 867.7 250.5 868.0 254.7 868.4 264.7 868.8 262.6 869.2 267.6 869.5 254.5 869.9 257.5 870.3 249.3 870.7 278.7 871.0 250.2 871.4 270.5 871.8 275.7 872.2 268.7 872.5 273.5 872.9 261.1 873.3 272.5 873.7 283.8 874.0 283.1 874.4 247.9 874.8 259.8 875.2 282.5 875.5 269.0 875.9 291.0 876.3 241.9 876.7 283.6 877.0 261.3 877.4 254.6 877.8 285.4 878.2 264.7 878.5 248.3 878.9 253.1 879.3 258.1 879.7 248.6 880.0 259.5 880.4 260.0 880.8 268.2 881.2 258.3 881.5 282.0 881.9 260.0 882.3 276.1 882.7 290.0 883.0 270.1 883.4 243.8 883.8 249.3 884.2 274.9 884.5 261.5 884.9 276.9 885.3 275.3 885.7 271.4 886.0 309.5 886.4 278.3 886.8 290.5 887.2 288.4 887.6 300.8 887.9 305.0 888.3 297.2 888.7 266.9 889.1 246.0 889.4 268.5 889.8 256.0 890.2 274.9 890.6 306.3 890.9 280.3 891.3 268.6 891.7 279.3 892.1 269.4 892.4 261.7 892.8 282.3 893.2 296.6 893.6 279.0 893.9 273.7 894.3 274.1 894.7 252.0 895.1 234.1 895.4 264.4 895.8 253.9 896.2 247.5 896.6 249.8 896.9 245.2 897.3 267.7 897.7 255.3 898.1 231.6 898.4 245.7 898.8 272.6 899.2 259.5 899.6 245.8 899.9 256.9 900.3 275.0 900.7 245.5 901.1 283.6 901.4 265.0 901.8 269.1 902.2 289.6 902.6 256.0 902.9 262.1 903.3 288.7 903.7 267.0 904.1 278.8 904.4 305.8 904.8 293.1 905.2 274.5 905.6 263.7 905.9 268.5 906.3 271.5 906.7 265.1 907.1 274.3 907.4 253.9 907.8 265.4 908.2 265.8 908.6 262.0 908.9 287.2 909.3 288.2 909.7 252.6 910.1 263.5 910.4 276.7 910.8 270.3 911.2 282.4 911.6 273.4 911.9 286.6 912.3 274.7 912.7 301.7 913.1 261.3 913.4 280.8 913.8 302.8 914.2 286.1 914.6 284.1 914.9 274.9 915.3 293.6 915.7 273.1 916.1 215.7 916.4 280.8 916.8 270.8 917.2 278.7 917.6 272.5 917.9 303.3 918.3 300.3 918.7 273.4 919.1 274.7 919.4 248.0 919.8 279.2 920.2 273.0 920.6 227.3 920.9 275.6 921.3 290.2 921.7 280.0 922.1 277.7 922.4 262.9 922.8 270.9 923.2 287.2 923.6 275.6 923.9 233.4 924.3 244.4 924.7 312.2 925.1 285.8 925.4 290.5 925.8 266.9 926.2 273.3 926.6 240.4 926.9 248.0 927.3 250.2 927.7 261.8 928.1 268.1 928.4 263.2 928.8 246.2 929.2 254.0 929.6 270.0 929.9 247.3 930.3 258.9 930.7 265.9 931.1 279.0 931.4 278.5 931.8 279.4 932.2 314.4 932.6 261.1 932.9 254.9 933.3 265.7 933.7 247.7 934.1 252.8 934.4 254.9 934.8 301.5 935.2 276.5 935.6 257.6 935.9 235.3 936.3 225.9 936.7 230.2 937.1 273.3 937.4 170.3 937.8 603.8 938.2 262.0 938.6 246.5 938.9 260.3 939.3 258.0 939.7 285.3 940.1 260.1 940.4 268.2 940.8 257.0 941.2 252.2 941.6 260.2 941.9 254.9 942.3 258.8 942.7 247.1 943.1 248.3 943.4 265.6 943.8 270.5 944.2 233.5 944.6 254.3 944.9 241.4 945.3 247.8 945.7 264.8 946.1 271.9 946.4 259.2 946.8 253.6 947.2 246.1 947.6 274.9 947.9 271.0 948.3 261.8 948.7 231.8 949.1 289.1 949.4 257.7 949.8 265.9 950.2 252.0 950.6 263.6 950.9 252.4 951.3 229.8 951.7 243.8 952.1 245.8 952.4 247.0 952.8 265.4 953.2 248.6 953.6 256.5 953.9 268.1 954.3 258.0 954.7 259.1 955.1 243.6 955.4 253.1 955.8 263.8 956.2 234.4 956.6 235.0 956.9 231.0 957.3 241.3 957.7 256.0 958.1 265.0 958.4 265.4 958.8 245.7 959.2 254.7 959.6 283.2 959.9 267.1 960.3 285.7 960.7 264.9 961.1 282.3 961.4 288.0 961.8 267.3 962.2 265.9 962.6 291.9 962.9 259.9 963.3 229.6 963.7 282.3 964.1 242.7 964.4 274.5 964.8 280.3 965.2 277.5 965.6 298.3 965.9 259.8 966.3 264.2 966.7 286.2 967.1 284.7 967.4 305.0 967.8 291.7 968.2 268.0 968.6 305.3 968.9 294.2 969.3 282.2 969.7 264.9 970.1 256.0 970.4 283.3 970.8 295.1 971.2 279.3 971.6 288.3 972.0 289.7 972.3 267.6 972.7 252.3 973.1 271.6 973.5 283.8 973.8 274.5 974.2 311.7 974.6 290.5 975.0 301.6 975.3 248.1 975.7 261.2 976.1 273.3 976.5 281.1 976.8 319.9 977.2 276.7 977.6 250.3 978.0 281.3 978.3 265.5 978.7 260.4 979.1 295.5 979.5 263.7 979.8 248.7 980.2 263.1 980.6 271.4 981.0 259.7 981.3 294.5 981.7 276.8 982.1 256.9 982.5 289.3 982.8 261.3 983.2 277.3 983.6 308.4 984.0 284.2 984.3 292.3 984.7 273.4 985.1 292.9 985.5 261.5 985.8 282.4 986.2 269.4 986.6 281.1 987.0 279.2 987.3 253.6 987.7 262.7 988.1 274.5 988.5 291.0 988.8 255.6 989.2 253.3 989.6 269.6 990.0 264.1 990.3 282.9 990.7 287.0 991.1 284.4 991.5 264.1 991.8 259.3 992.2 274.4 992.6 253.5 993.0 246.9 993.3 254.7 993.7 242.3 994.1 260.5 994.5 262.1 994.8 252.9 995.2 258.9 995.6 247.0 996.0 277.5 996.3 241.5 996.7 268.5 997.1 265.2 997.5 284.0 997.8 256.4 998.2 238.2 998.6 236.7 999.0 239.9 999.3 279.3 999.7 276.3 1000.1 270.1 1000.5 276.2 1000.8 244.3 1001.2 251.9 1001.6 257.6 1002.0 251.1 1002.3 273.5 1002.7 279.0 1003.1 280.5 1003.5 258.9 1003.8 256.5 1004.2 252.4 1004.6 243.4 1005.0 281.1 1005.3 277.6 1005.7 265.3 1006.1 286.7 1006.5 278.9 1006.8 251.8 1007.2 243.8 1007.6 242.3 1008.0 258.8 1008.3 267.2 1008.7 248.2 1009.1 267.1 1009.5 260.1 1009.8 242.0 1010.2 264.6 1010.6 273.7 1011.0 265.6 1011.3 253.1 1011.7 251.2 1012.1 255.5 1012.5 249.5 1012.8 282.8 1013.2 278.8 1013.6 261.0 1014.0 274.2 1014.3 284.3 1014.7 284.8 1015.1 280.5 1015.5 267.8 1015.8 278.8 1016.2 261.5 1016.6 233.8 1017.0 257.4 1017.3 240.4 1017.7 252.6 1018.1 278.8 1018.5 271.6 1018.8 281.8 1019.2 256.0 1019.6 281.1 1020.0 247.3 1020.3 251.3 1020.7 295.2 1021.1 260.8 1021.5 240.1 1021.8 273.5 1022.2 253.3 1022.6 293.9 1023.0 270.8 1023.3 296.3 1023.7 267.9 1024.1 297.9 1024.5 319.1 1024.8 274.9 1025.2 232.6 1025.6 268.7 1026.0 253.9 1026.3 261.5 1026.7 270.0 1027.1 256.4 1027.5 235.8 1027.8 277.2 1028.2 258.0 1028.6 256.5 1029.0 284.8 1029.3 242.3 1029.7 226.1 1030.1 269.5 1030.5 236.5 1030.8 255.7 1031.2 264.2 1031.6 239.3 1032.0 254.0 1032.3 256.2 1032.7 237.4 1033.1 236.5 1033.5 242.7 1033.8 281.5 1034.2 293.8 1034.6 252.6 1035.0 275.6 1035.3 263.7 1035.7 280.7 1036.1 270.4 1036.5 285.8 1036.8 242.3 1037.2 275.0 1037.6 268.8 1038.0 268.7 1038.3 246.4 1038.7 284.1 1039.1 271.3 1039.5 271.4 1039.8 259.6 1040.2 257.7 1040.6 272.5 1041.0 264.7 1041.3 272.4 1041.7 260.3 1042.1 266.1 1042.5 276.0 1042.8 267.8 1043.2 259.0 1043.6 225.5 1044.0 262.0 1044.3 258.1 1044.7 238.4 1045.1 291.4 1045.5 299.6 1045.8 293.0 1046.2 274.3 1046.6 228.4 1047.0 250.6 1047.3 243.1 1047.7 264.5 1048.1 306.3 1048.5 314.2 1048.8 261.6 1049.2 261.7 1049.6 285.5 1050.0 251.8 1050.3 286.4 1050.7 251.5 1051.1 237.6 1051.5 270.3 1051.8 284.3 1052.2 256.3 1052.6 281.2 1053.0 256.0 1053.3 283.7 1053.7 258.5 1054.1 264.3 1054.5 274.8 1054.8 285.3 1055.2 269.8 1055.6 300.8 1056.0 282.4 1056.4 279.8 1056.7 261.7 1057.1 288.6 1057.5 247.0 1057.9 269.4 1058.2 288.3 1058.6 251.8 1059.0 238.0 1059.4 264.4 1059.7 282.1 1060.1 271.5 1060.5 280.1 1060.9 275.8 1061.2 244.1 1061.6 255.1 1062.0 261.9 1062.4 260.5 1062.7 267.1 1063.1 254.5 1063.5 251.3 1063.9 271.4 1064.2 269.4 1064.6 232.0 1065.0 255.7 1065.4 272.1 1065.7 240.5 1066.1 266.2 1066.5 291.0 1066.9 268.7 1067.2 288.9 1067.6 287.5 1068.0 273.9 1068.4 277.8 1068.7 289.1 1069.1 288.4 1069.5 288.9 1069.9 260.4 1070.2 283.8 1070.6 287.2 1071.0 245.6 1071.4 277.2 1071.7 251.9 1072.1 248.3 1072.5 271.2 1072.9 297.5 1073.2 273.8 1073.6 264.3 1074.0 257.1 1074.4 269.9 1074.7 254.6 1075.1 247.7 1075.5 285.5 1075.9 254.4 1076.2 266.8 1076.6 281.8 1077.0 281.4 1077.4 245.7 1077.7 251.2 1078.1 297.4 1078.5 278.5 1078.9 277.2 1079.2 277.3 1079.6 282.7 1080.0 299.3 1080.4 266.0 1080.7 287.0 1081.1 283.4 1081.5 286.5 1081.9 289.7 1082.2 267.0 1082.6 267.5 1083.0 285.1 1083.4 294.1 1083.7 288.9 1084.1 264.5 1084.5 272.2 1084.9 272.5 1085.2 281.7 1085.6 282.8 1086.0 275.2 1086.4 306.4 1086.7 257.8 1087.1 283.9 1087.5 286.3 1087.9 255.5 1088.2 265.3 1088.6 270.2 1089.0 281.0 1089.4 299.2 1089.7 275.1 1090.1 252.5 1090.5 280.3 1090.9 250.5 1091.2 283.1 1091.6 284.8 1092.0 265.1 1092.4 268.5 1092.7 258.5 1093.1 279.5 1093.5 290.1 1093.9 306.8 1094.2 301.0 1094.6 298.3 1095.0 304.1 1095.4 278.4 1095.7 288.4 1096.1 313.1 1096.5 247.8 1096.9 285.7 1097.2 302.6 1097.6 267.1 1098.0 259.9 1098.4 295.9 1098.7 310.5 1099.1 306.8 1099.5 272.0 1099.9 287.0 1100.2 299.1 1100.6 290.0 1101.0 268.2 1101.4 304.9 1101.7 298.2 1102.1 312.9 1102.5 259.4 1102.9 251.9 1103.2 263.4 1103.6 283.4 1104.0 275.3 1104.4 317.5 1104.7 289.4 1105.1 308.1 1105.5 312.4 1105.9 303.3 1106.2 295.1 1106.6 278.0 1107.0 271.4 1107.4 276.6 1107.7 297.1 1108.1 275.6 1108.5 282.7 1108.9 263.0 1109.2 291.4 1109.6 327.8 1110.0 299.3 1110.4 248.9 1110.7 263.0 1111.1 276.7 1111.5 262.2 1111.9 264.3 1112.2 265.1 1112.6 280.8 1113.0 181.4 1113.4 604.9 1113.7 283.9 1114.1 294.6 1114.5 276.5 1114.9 258.2 1115.2 258.5 1115.6 260.7 1116.0 260.7 1116.4 226.5 1116.7 255.3 1117.1 249.4 1117.5 232.6 1117.9 259.1 1118.2 262.0 1118.6 249.9 1119.0 236.3 1119.4 255.2 1119.7 259.2 1120.1 264.8 1120.5 287.6 1120.9 255.7 1121.2 270.4 1121.6 298.2 1122.0 279.7 1122.4 301.1 1122.7 294.7 1123.1 276.3 1123.5 286.7 1123.9 256.3 1124.2 289.6 1124.6 268.9 1125.0 258.1 1125.4 239.7 1125.7 242.8 1126.1 253.8 1126.5 258.0 1126.9 261.0 1127.2 241.7 1127.6 265.8 1128.0 252.3 1128.4 258.9 1128.7 255.2 1129.1 262.6 1129.5 225.4 1129.9 262.0 1130.2 256.5 1130.6 255.0 1131.0 249.5 1131.4 251.0 1131.7 252.1 1132.1 243.5 1132.5 282.1 1132.9 267.3 1133.2 284.0 1133.6 264.5 1134.0 282.8 1134.4 283.8 1134.7 269.5 1135.1 242.2 1135.5 248.8 1135.9 255.1 1136.2 238.6 1136.6 272.7 1137.0 299.9 1137.4 279.6 1137.7 272.1 1138.1 245.6 1138.5 224.3 1138.9 275.6 1139.2 226.6 1139.6 229.5 1140.0 242.4 1140.4 253.7 1140.8 223.5 1141.1 254.5 1141.5 271.5 1141.9 266.1 1142.3 289.5 1142.6 265.5 1143.0 268.9 1143.4 262.7 1143.8 260.7 1144.1 283.2 1144.5 250.4 1144.9 280.1 1145.3 256.8 1145.6 291.5 1146.0 268.4 1146.4 282.3 1146.8 272.0 1147.1 281.0 1147.5 308.4 1147.9 298.1 1148.3 276.6 1148.6 262.4 1149.0 292.9 1149.4 311.3 1149.8 295.7 1150.1 281.1 1150.5 284.3 1150.9 288.0 1151.3 262.1 1151.6 254.0 1152.0 256.0 1152.4 284.1 1152.8 275.2 1153.1 277.9 1153.5 299.1 1153.9 267.5 1154.3 273.0 1154.6 284.2 1155.0 256.8 1155.4 261.0 1155.8 261.1 1156.1 256.1 1156.5 263.1 1156.9 297.3 1157.3 291.6 1157.6 267.8 1158.0 290.4 1158.4 282.9 1158.8 275.0 1159.1 255.9 1159.5 253.3 1159.9 258.9 1160.3 277.6 1160.6 264.4 1161.0 267.4 1161.4 279.3 1161.8 257.8 1162.1 266.6 1162.5 289.2 1162.9 262.4 1163.3 280.6 1163.6 271.8 1164.0 304.0 1164.4 287.9 1164.8 298.9 1165.1 302.0 1165.5 317.6 1165.9 255.5 1166.3 276.4 1166.6 274.5 1167.0 259.0 1167.4 274.1 1167.8 266.7 1168.1 294.2 1168.5 275.1 1168.9 279.5 1169.3 265.3 1169.6 266.6 1170.0 292.0 1170.4 305.9 1170.8 295.8 1171.1 265.0 1171.5 262.5 1171.9 262.5 1172.3 301.9 1172.6 322.9 1173.0 294.9 1173.4 283.5 1173.8 285.3 1174.1 270.3 1174.5 275.2 1174.9 292.9 1175.3 292.3 1175.6 275.5 1176.0 272.3 1176.4 273.8 1176.8 236.2 1177.1 267.7 1177.5 269.4 1177.9 288.0 1178.3 282.5 1178.6 267.0 1179.0 262.6 1179.4 273.6 1179.8 267.6 1180.1 272.0 1180.5 305.0 1180.9 336.3 1181.3 253.9 1181.6 257.8 1182.0 273.5 1182.4 304.9 1182.8 305.3 1183.1 262.6 1183.5 319.0 1183.9 292.7 1184.3 266.4 1184.6 271.2 1185.0 262.1 1185.4 273.9 1185.8 235.8 1186.1 281.8 1186.5 298.8 1186.9 276.7 1187.3 252.7 1187.6 271.1 1188.0 258.1 1188.4 280.8 1188.8 297.3 1189.1 259.6 1189.5 247.5 1189.9 245.2 1190.3 276.5 1190.6 295.8 1191.0 300.6 1191.4 286.2 1191.8 269.3 1192.1 266.0 1192.5 296.6 1192.9 277.7 1193.3 275.8 1193.6 274.1 1194.0 275.5 1194.4 278.8 1194.8 266.5 1195.1 270.9 1195.5 270.0 1195.9 284.3 1196.3 269.6 1196.6 273.8 1197.0 306.7 1197.4 272.1 1197.8 275.1 1198.1 256.1 1198.5 268.7 1198.9 270.6 1199.3 265.8 1199.6 268.2 1200.0 275.9 1200.4 299.7 1200.8 246.6 1201.1 289.1 1201.5 279.6 1201.9 261.1 1202.3 261.0 1202.6 257.8 1203.0 253.6 1203.4 244.3 1203.8 257.6 1204.1 218.3 1204.5 272.5 1204.9 265.9 1205.3 274.0 1205.6 279.1 1206.0 267.0 1206.4 245.1 1206.8 275.0 1207.1 282.7 1207.5 261.4 1207.9 259.1 1208.3 235.7 1208.6 245.1 1209.0 260.5 1209.4 273.6 1209.8 268.0 1210.1 273.1 1210.5 293.8 1210.9 276.7 1211.3 275.5 1211.6 276.3 1212.0 279.9 1212.4 246.5 1212.8 254.6 1213.1 252.9 1213.5 277.9 1213.9 291.0 1214.3 282.4 1214.6 271.9 1215.0 279.1 1215.4 278.6 1215.8 260.1 1216.1 266.5 1216.5 289.2 1216.9 286.1 1217.3 289.3 1217.6 276.6 1218.0 295.4 1218.4 284.0 1218.8 266.9 1219.1 273.2 1219.5 289.9 1219.9 288.9 1220.3 276.3 1220.6 267.0 1221.0 258.5 1221.4 271.9 1221.8 293.8 1222.1 254.3 1222.5 262.3 1222.9 262.2 1223.3 263.6 1223.6 285.7 1224.0 279.6 1224.4 268.8 1224.8 253.8 1225.2 266.1 1225.5 321.2 1225.9 288.6 1226.3 271.1 1226.7 251.6 1227.0 256.3 1227.4 228.6 1227.8 239.0 1228.2 242.8 1228.5 250.2 1228.9 289.5 1229.3 262.8 1229.7 259.6 1230.0 276.3 1230.4 261.8 1230.8 260.4 1231.2 273.9 1231.5 271.4 1231.9 272.9 1232.3 265.2 1232.7 274.0 1233.0 260.6 1233.4 297.5 1233.8 280.5 1234.2 299.4 1234.5 284.9 1234.9 265.4 1235.3 268.8 1235.7 271.9 1236.0 269.9 1236.4 245.0 1236.8 282.3 1237.2 258.9 1237.5 291.8 1237.9 282.7 1238.3 269.6 1238.7 282.4 1239.0 267.9 1239.4 255.3 1239.8 283.1 1240.2 271.5 1240.5 273.2 1240.9 298.9 1241.3 276.6 1241.7 280.9 1242.0 247.0 1242.4 274.7 1242.8 239.6 1243.2 267.3 1243.5 233.8 1243.9 248.2 1244.3 253.2 1244.7 248.6 1245.0 245.7 1245.4 236.7 1245.8 229.0 1246.2 260.9 1246.5 283.5 1246.9 312.3 1247.3 282.1 1247.7 255.7 1248.0 255.4 1248.4 259.6 1248.8 268.3 1249.2 275.2 1249.5 271.1 1249.9 259.1 1250.3 291.3 1250.7 258.5 1251.0 285.9 1251.4 271.4 1251.8 275.4 1252.2 271.9 1252.5 281.9 1252.9 286.1 1253.3 272.0 1253.7 282.6 1254.0 227.3 1254.4 260.7 1254.8 272.9 1255.2 274.1 1255.5 282.7 1255.9 307.3 1256.3 277.1 1256.7 260.0 1257.0 285.1 1257.4 266.3 1257.8 281.1 1258.2 265.3 1258.5 254.5 1258.9 249.5 1259.3 248.9 1259.7 267.4 1260.0 246.1 1260.4 262.8 1260.8 254.2 1261.2 246.6 1261.5 261.6 1261.9 281.8 1262.3 256.1 1262.7 278.2 1263.0 280.3 1263.4 284.5 1263.8 253.8 1264.2 262.6 1264.5 298.8 1264.9 259.1 1265.3 227.3 1265.7 223.8 1266.0 261.6 1266.4 260.6 1266.8 253.3 1267.2 245.3 1267.5 257.5 1267.9 279.1 1268.3 254.5 1268.7 250.8 1269.0 281.7 1269.4 273.8 1269.8 261.5 1270.2 262.8 1270.5 254.5 1270.9 247.8 1271.3 250.3 1271.7 261.6 1272.0 284.6 1272.4 258.5 1272.8 239.4 1273.2 225.6 1273.5 255.3 1273.9 263.3 1274.3 241.7 1274.7 237.0 1275.0 254.2 1275.4 253.0 1275.8 277.1 1276.2 261.4 1276.5 280.7 1276.9 274.3 1277.3 271.9 1277.7 276.5 1278.0 303.9 1278.4 289.3 1278.8 266.1 1279.2 266.1 1279.5 270.9 1279.9 258.0 1280.3 249.9 1280.7 244.7 1281.0 269.8 1281.4 262.1 1281.8 265.4 1282.2 274.7 1282.5 286.7 1282.9 266.5 1283.3 273.8 1283.7 225.9 1284.0 250.6 1284.4 258.7 1284.8 263.6 1285.2 173.1 1285.5 582.7 1285.9 261.8 1286.3 271.3 1286.7 263.4 1287.0 260.3 1287.4 241.2 1287.8 277.7 1288.2 264.1 1288.5 233.8 1288.9 261.0 1289.3 262.1 1289.7 273.8 1290.0 304.7 1290.4 270.8 1290.8 240.7 1291.2 259.6 1291.5 286.2 1291.9 257.4 1292.3 252.6 1292.7 235.6 1293.0 232.2 1293.4 250.3 1293.8 243.4 1294.2 277.5 1294.5 237.9 1294.9 243.1 1295.3 229.5 1295.7 226.4 1296.0 247.8 1296.4 250.8 1296.8 263.3 1297.2 285.9 1297.5 259.5 1297.9 248.0 1298.3 265.4 1298.7 239.8 1299.0 243.9 1299.4 239.2 1299.8 258.4 1300.2 279.8 1300.5 243.6 1300.9 237.6 1301.3 248.4 1301.7 256.7 1302.0 256.9 1302.4 255.3 1302.8 261.6 1303.2 288.5 1303.5 249.8 1303.9 278.1 1304.3 266.6 1304.7 263.7 1305.0 253.9 1305.4 282.5 1305.8 243.5 1306.2 242.9 1306.5 241.0 1306.9 232.5 1307.3 264.4 1307.7 310.9 1308.0 265.8 1308.4 238.7 1308.8 234.5 1309.2 261.5 1309.6 261.2 1309.9 255.1 1310.3 288.1 1310.7 277.9 1311.1 275.0 1311.4 238.1 1311.8 265.6 1312.2 236.3 1312.6 254.5 1312.9 286.8 1313.3 231.3 1313.7 269.7 1314.1 253.4 1314.4 231.6 1314.8 263.0 1315.2 282.4 1315.6 250.4 1315.9 258.6 1316.3 282.0 1316.7 285.7 1317.1 275.6 1317.4 251.4 1317.8 266.2 1318.2 254.9 1318.6 236.3 1318.9 238.4 1319.3 236.3 1319.7 239.3 1320.1 286.6 1320.4 252.5 1320.8 258.6 1321.2 267.6 1321.6 285.5 1321.9 297.9 1322.3 292.8 1322.7 273.2 1323.1 286.3 1323.4 282.8 1323.8 277.6 1324.2 254.3 1324.6 263.2 1324.9 262.1 1325.3 237.0 1325.7 257.1 1326.1 246.8 1326.4 271.0 1326.8 254.3 1327.2 253.5 1327.6 252.4 1327.9 262.8 1328.3 274.7 1328.7 266.0 1329.1 266.7 1329.4 242.4 1329.8 238.5 1330.2 272.0 1330.6 250.5 1330.9 263.2 1331.3 250.9 1331.7 263.2 1332.1 282.5 1332.4 246.6 1332.8 247.0 1333.2 274.7 1333.6 292.6 1333.9 275.0 1334.3 281.3 1334.7 269.5 1335.1 250.4 1335.4 231.6 1335.8 256.6 1336.2 234.2 1336.6 231.7 1336.9 256.9 1337.3 283.0 1337.7 247.7 1338.1 242.4 1338.4 212.1 1338.8 219.4 1339.2 231.6 1339.6 219.6 1339.9 261.4 1340.3 251.5 1340.7 256.6 1341.1 224.9 1341.4 236.3 1341.8 298.7 1342.2 241.7 1342.6 264.8 1342.9 243.1 1343.3 258.5 1343.7 250.7 1344.1 242.5 1344.4 247.8 1344.8 268.1 1345.2 234.4 1345.6 242.4 1345.9 251.1 1346.3 241.3 1346.7 259.1 1347.1 223.7 1347.4 242.1 1347.8 244.4 1348.2 245.3 1348.6 266.3 1348.9 275.9 1349.3 255.5 1349.7 248.3 1350.1 230.4 1350.4 240.8 1350.8 268.9 1351.2 249.6 1351.6 240.1 1351.9 235.0 1352.3 244.9 1352.7 273.0 1353.1 240.7 1353.4 263.5 1353.8 247.4 1354.2 278.3 1354.6 247.0 1354.9 264.2 1355.3 237.2 1355.7 218.7 1356.1 223.3 1356.4 262.5 1356.8 268.2 1357.2 268.1 1357.6 242.7 1357.9 241.5 1358.3 244.2 1358.7 242.6 1359.1 237.9 1359.4 235.9 1359.8 218.6 1360.2 243.5 1360.6 245.9 1360.9 280.8 1361.3 281.0 1361.7 270.9 1362.1 276.6 1362.4 254.9 1362.8 235.8 1363.2 255.2 1363.6 260.6 1363.9 262.1 1364.3 251.5 1364.7 259.7 1365.1 245.4 1365.4 243.6 1365.8 242.1 1366.2 234.6 1366.6 244.6 1366.9 245.0 1367.3 218.3 1367.7 241.1 1368.1 232.7 1368.4 242.6 1368.8 253.2 1369.2 255.5 1369.6 261.7 1369.9 249.2 1370.3 256.0 1370.7 254.5 1371.1 226.9 1371.4 242.3 1371.8 225.0 1372.2 235.0 1372.6 227.5 1372.9 249.8 1373.3 242.8 1373.7 199.8 1374.1 218.9 1374.4 220.6 1374.8 233.6 1375.2 226.4 1375.6 257.7 1375.9 260.2 1376.3 239.5 1376.7 227.6 1377.1 244.9 1377.4 245.4 1377.8 248.5 1378.2 246.5 1378.6 262.9 1378.9 271.1 1379.3 251.1 1379.7 273.8 1380.1 267.1 1380.4 260.4 1380.8 265.4 1381.2 245.5 1381.6 252.0 1381.9 247.9 1382.3 262.4 1382.7 261.7 1383.1 240.9 1383.4 238.1 1383.8 251.0 1384.2 240.2 1384.6 240.0 1384.9 240.1 1385.3 215.9 1385.7 242.4 1386.1 235.1 1386.4 232.8 1386.8 242.7 1387.2 260.3 1387.6 233.8 1387.9 234.1 1388.3 237.6 1388.7 238.9 1389.1 239.3 1389.4 254.5 1389.8 238.8 1390.2 269.5 1390.6 247.8 1390.9 266.7 1391.3 252.4 1391.7 231.0 1392.1 241.6 1392.4 247.7 1392.8 232.7 1393.2 241.8 1393.6 246.4 1394.0 247.3 1394.3 216.1 1394.7 222.6 1395.1 227.5 1395.5 256.8 1395.8 234.4 1396.2 260.8 1396.6 238.4 1397.0 259.4 1397.3 214.0 1397.7 263.0 1398.1 227.0 1398.5 224.8 1398.8 266.8 1399.2 251.6 1399.6 219.6 1400.0 216.4 1400.3 261.6 1400.7 253.7 1401.1 262.3 1401.5 261.7 1401.8 255.0 1402.2 212.0 1402.6 229.3 1403.0 239.5 1403.3 243.7 1403.7 228.3 1404.1 224.1 1404.5 249.8 1404.8 216.6 1405.2 250.5 1405.6 245.5 1406.0 232.0 1406.3 207.6 1406.7 235.3 1407.1 231.6 1407.5 213.8 1407.8 220.7 1408.2 214.3 1408.6 214.5 1409.0 227.8 1409.3 225.5 1409.7 220.7 1410.1 235.7 1410.5 213.2 1410.8 267.5 1411.2 264.1 1411.6 224.7 1412.0 232.2 1412.3 252.2 1412.7 240.6 1413.1 226.2 1413.5 250.0 1413.8 234.1 1414.2 244.9 1414.6 247.4 1415.0 247.2 1415.3 227.5 1415.7 259.3 1416.1 254.7 1416.5 236.3 1416.8 262.6 1417.2 275.0 1417.6 242.4 1418.0 243.5 1418.3 246.2 1418.7 242.1 1419.1 259.5 1419.5 199.8 1419.8 249.5 1420.2 252.9 1420.6 270.1 1421.0 257.7 1421.3 222.5 1421.7 238.4 1422.1 232.8 1422.5 249.1 1422.8 215.2 1423.2 233.9 1423.6 261.9 1424.0 235.6 1424.3 248.0 1424.7 235.2 1425.1 240.0 1425.5 239.5 1425.8 241.9 1426.2 260.1 1426.6 275.1 1427.0 238.4 1427.3 248.1 1427.7 244.0 1428.1 255.6 1428.5 284.6 1428.8 279.8 1429.2 234.8 1429.6 259.7 1430.0 259.4 1430.3 277.5 1430.7 266.7 1431.1 261.7 1431.5 258.2 1431.8 255.0 1432.2 263.6 1432.6 264.8 1433.0 255.9 1433.3 248.1 1433.7 253.7 1434.1 223.9 1434.5 241.6 1434.8 246.5 1435.2 261.0 1435.6 236.8 1436.0 264.3 1436.3 280.8 1436.7 274.2 1437.1 246.2 1437.5 268.3 1437.8 233.9 1438.2 247.1 1438.6 275.2 1439.0 261.3 1439.3 225.1 1439.7 259.9 1440.1 276.3 1440.5 250.8 1440.8 231.8 1441.2 232.1 1441.6 254.7 1442.0 252.2 1442.3 249.7 1442.7 235.3 1443.1 215.9 1443.5 248.2 1443.8 233.2 1444.2 256.4 1444.6 246.7 1445.0 269.1 1445.3 271.8 1445.7 253.0 1446.1 269.9 1446.5 244.8 1446.8 262.3 1447.2 256.5 1447.6 257.3 1448.0 261.4 1448.3 254.7 1448.7 237.3 1449.1 199.6 1449.5 260.6 1449.8 251.3 1450.2 256.7 1450.6 270.0 1451.0 253.3 1451.3 268.0 1451.7 258.0 1452.1 233.2 1452.5 280.2 1452.8 254.1 1453.2 243.8 1453.6 264.0 1454.0 244.3 1454.3 242.0 1454.7 252.7 1455.1 229.5 1455.5 265.0 1455.8 241.5 1456.2 249.7 1456.6 265.0 1457.0 253.8 1457.3 162.0 1457.7 576.9 1458.1 266.1 1458.5 252.2 1458.8 252.4 1459.2 218.3 1459.6 253.8 1460.0 226.2 1460.3 265.6 1460.7 240.5 1461.1 242.0 1461.5 233.9 1461.8 249.9 1462.2 274.7 1462.6 274.2 1463.0 226.6 1463.3 232.8 1463.7 251.9 1464.1 227.0 1464.5 247.6 1464.8 252.0 1465.2 260.3 1465.6 221.8 1466.0 198.2 1466.3 240.2 1466.7 229.1 1467.1 214.3 1467.5 191.1 1467.8 260.1 1468.2 234.9 1468.6 220.1 1469.0 251.8 1469.3 228.3 1469.7 226.0 1470.1 216.8 1470.5 236.4 1470.8 224.7 1471.2 239.7 1471.6 223.8 1472.0 228.0 1472.3 238.5 1472.7 258.9 1473.1 213.4 1473.5 211.5 1473.8 215.2 1474.2 242.2 1474.6 243.9 1475.0 210.8 1475.3 218.0 1475.7 246.3 1476.1 238.3 1476.5 234.5 1476.8 238.8 1477.2 251.7 1477.6 217.9 1478.0 220.1 1478.4 233.2 1478.7 259.1 1479.1 249.0 1479.5 236.9 1479.9 219.6 1480.2 236.1 1480.6 216.1 1481.0 227.6 1481.4 245.5 1481.7 284.3 1482.1 267.5 1482.5 268.7 1482.9 247.0 1483.2 233.5 1483.6 212.5 1484.0 230.2 1484.4 253.4 1484.7 200.9 1485.1 221.3 1485.5 235.7 1485.9 239.2 1486.2 258.1 1486.6 230.1 1487.0 227.8 1487.4 207.7 1487.7 211.4 1488.1 217.1 1488.5 213.0 1488.9 238.5 1489.2 248.5 1489.6 245.5 1490.0 265.6 1490.4 253.3 1490.7 254.3 1491.1 238.8 1491.5 246.9 1491.9 280.6 1492.2 257.4 1492.6 228.9 1493.0 275.4 1493.4 269.3 1493.7 255.0 1494.1 273.5 1494.5 265.2 1494.9 253.2 1495.2 272.9 1495.6 251.4 1496.0 244.4 1496.4 270.3 1496.7 255.5 1497.1 234.4 1497.5 249.8 1497.9 243.7 1498.2 238.8 1498.6 252.0 1499.0 235.4 1499.4 241.1 1499.7 265.2 1500.1 246.3 1500.5 235.9 1500.9 234.3 1501.2 257.6 1501.6 245.4 1502.0 227.3 1502.4 241.7 1502.7 229.7 1503.1 224.8 1503.5 245.6 1503.9 239.3 1504.2 253.4 1504.6 234.4 1505.0 248.6 1505.4 259.3 1505.7 252.9 1506.1 251.6 1506.5 243.3 1506.9 239.3 1507.2 264.6 1507.6 261.9 1508.0 244.0 1508.4 237.0 1508.7 241.4 1509.1 200.1 1509.5 214.4 1509.9 237.4 1510.2 229.8 1510.6 217.8 1511.0 231.0 1511.4 269.4 1511.7 249.1 1512.1 245.3 1512.5 210.7 1512.9 268.2 1513.2 227.4 1513.6 245.9 1514.0 233.3 1514.4 250.8 1514.7 247.9 1515.1 231.7 1515.5 245.1 1515.9 232.4 1516.2 247.8 1516.6 256.8 1517.0 255.5 1517.4 259.5 1517.7 253.7 1518.1 227.2 1518.5 261.9 1518.9 278.1 1519.2 254.7 1519.6 220.4 1520.0 222.1 1520.4 217.8 1520.7 217.9 1521.1 250.7 1521.5 245.0 1521.9 289.6 1522.2 267.1 1522.6 241.7 1523.0 271.5 1523.4 287.6 1523.7 279.4 1524.1 252.5 1524.5 230.3 1524.9 201.5 1525.2 213.3 1525.6 264.9 1526.0 290.9 1526.4 256.4 1526.7 232.5 1527.1 270.4 1527.5 261.5 1527.9 257.7 1528.2 248.5 1528.6 249.5 1529.0 238.0 1529.4 226.1 1529.7 239.3 1530.1 231.3 1530.5 208.8 1530.9 253.0 1531.2 264.5 1531.6 241.7 1532.0 214.0 1532.4 235.0 1532.7 224.9 1533.1 245.5 1533.5 230.3 1533.9 251.9 1534.2 235.7 1534.6 236.1 1535.0 236.0 1535.4 219.6 1535.7 220.5 1536.1 248.1 1536.5 230.3 1536.9 268.4 1537.2 233.3 1537.6 195.2 1538.0 222.2 1538.4 229.1 1538.7 238.0 1539.1 227.4 1539.5 245.9 1539.9 231.9 1540.2 244.0 1540.6 249.5 1541.0 241.8 1541.4 242.8 1541.7 270.7 1542.1 214.5 1542.5 232.3 1542.9 267.0 1543.2 229.7 1543.6 238.5 1544.0 236.8 1544.4 227.9 1544.7 252.1 1545.1 292.0 1545.5 254.9 1545.9 240.1 1546.2 224.0 1546.6 249.2 1547.0 247.8 1547.4 236.8 1547.7 246.3 1548.1 248.1 1548.5 240.7 1548.9 259.9 1549.2 222.4 1549.6 254.7 1550.0 247.2 1550.4 251.6 1550.7 259.1 1551.1 240.5 1551.5 228.1 1551.9 217.6 1552.2 229.3 1552.6 249.2 1553.0 232.3 1553.4 266.1 1553.7 249.8 1554.1 237.8 1554.5 234.0 1554.9 261.3 1555.2 273.7 1555.6 224.4 1556.0 247.7 1556.4 272.0 1556.7 271.0 1557.1 249.6 1557.5 224.6 1557.9 237.5 1558.2 220.6 1558.6 232.3 1559.0 231.0 1559.4 222.1 1559.7 242.4 1560.1 236.5 1560.5 246.4 1560.9 253.1 1561.2 233.6 1561.6 253.3 1562.0 243.4 1562.4 255.4 1562.8 246.9 1563.1 252.0 1563.5 226.3 1563.9 236.6 1564.3 239.0 1564.6 213.4 1565.0 281.9 1565.4 269.5 1565.8 293.2 1566.1 253.9 1566.5 236.7 1566.9 229.0 1567.3 233.4 1567.6 253.5 1568.0 215.4 1568.4 230.0 1568.8 243.2 1569.1 261.0 1569.5 240.3 1569.9 250.5 1570.3 252.7 1570.6 242.7 1571.0 240.2 1571.4 257.0 1571.8 227.1 1572.1 257.0 1572.5 266.5 1572.9 245.4 1573.3 243.0 1573.6 243.2 1574.0 251.0 1574.4 245.2 1574.8 253.4 1575.1 273.1 1575.5 238.3 1575.9 258.1 1576.3 249.6 1576.6 231.3 1577.0 238.0 1577.4 194.5 1577.8 251.8 1578.1 255.1 1578.5 241.9 1578.9 217.5 1579.3 237.8 1579.6 262.4 1580.0 226.1 1580.4 251.2 1580.8 245.7 1581.1 226.8 1581.5 248.0 1581.9 250.0 1582.3 235.4 1582.6 243.6 1583.0 238.0 1583.4 257.3 1583.8 249.0 1584.1 263.3 1584.5 275.0 1584.9 223.5 1585.3 232.4 1585.6 227.2 1586.0 257.2 1586.4 249.4 1586.8 250.4 1587.1 270.7 1587.5 243.3 1587.9 257.3 1588.3 252.1 1588.6 272.4 1589.0 235.9 1589.4 230.6 1589.8 235.3 1590.1 257.9 1590.5 257.3 1590.9 228.1 1591.3 245.7 1591.6 241.3 1592.0 242.4 1592.4 263.6 1592.8 225.6 1593.1 274.3 1593.5 250.3 1593.9 249.8 1594.3 275.3 1594.6 249.8 1595.0 240.7 1595.4 246.4 1595.8 262.5 1596.1 245.7 1596.5 230.6 1596.9 241.6 1597.3 219.5 1597.6 228.2 1598.0 231.8 1598.4 222.5 1598.8 253.9 1599.1 259.5 1599.5 243.8 1599.9 239.9 1600.3 222.8 1600.6 224.8 1601.0 241.4 1601.4 245.2 1601.8 254.5 1602.1 258.6 1602.5 261.3 1602.9 239.9 1603.3 257.4 1603.6 260.1 1604.0 252.6 1604.4 262.0 1604.8 260.1 1605.1 292.1 1605.5 258.5 1605.9 261.6 1606.3 254.6 1606.6 250.3 1607.0 286.0 1607.4 225.4 1607.8 247.1 1608.1 252.2 1608.5 285.6 1608.9 254.4 1609.3 249.9 1609.6 261.3 1610.0 254.0 1610.4 235.1 1610.8 256.8 1611.1 271.5 1611.5 238.7 1611.9 248.0 1612.3 257.8 1612.6 219.9 1613.0 245.7 1613.4 258.0 1613.8 254.1 1614.1 264.4 1614.5 257.1 1614.9 256.5 1615.3 269.8 1615.6 266.8 1616.0 256.9 1616.4 253.4 1616.8 249.5 1617.1 245.4 1617.5 253.4 1617.9 251.3 1618.3 265.7 1618.6 267.6 1619.0 247.3 1619.4 291.7 1619.8 264.8 1620.1 212.7 1620.5 281.4 1620.9 244.0 1621.3 287.2 1621.6 262.6 1622.0 235.0 1622.4 229.6 1622.8 266.5 1623.1 281.3 1623.5 286.4 1623.9 251.7 1624.3 260.5 1624.6 255.7 1625.0 249.8 1625.4 245.4 1625.8 241.8 1626.1 247.3 1626.5 276.6 1626.9 233.4 1627.3 291.2 1627.6 239.9 1628.0 256.9 1628.4 254.0 1628.8 258.3 1629.1 256.4 1629.5 155.0 1629.9 603.8 1630.3 266.2 1630.6 237.3 1631.0 253.3 1631.4 225.1 1631.8 242.2 1632.1 255.1 1632.5 238.8 1632.9 226.6 1633.3 252.8 1633.6 248.0 1634.0 217.7 1634.4 249.4 1634.8 254.0 1635.1 237.6 1635.5 255.7 1635.9 280.3 1636.3 272.8 1636.6 236.7 1637.0 222.7 1637.4 220.0 1637.8 222.5 1638.1 249.9 1638.5 225.0 1638.9 210.7 1639.3 237.6 1639.6 217.0 1640.0 234.0 1640.4 229.3 1640.8 225.6 1641.1 255.9 1641.5 214.9 1641.9 243.7 1642.3 238.9 1642.6 244.6 1643.0 230.7 1643.4 228.0 1643.8 234.4 1644.1 213.1 1644.5 226.6 1644.9 241.3 1645.3 286.1 1645.6 254.0 1646.0 245.9 1646.4 253.3" fill="none" stroke="#f00" stroke-width="1" stroke-linejoin="miter" shape-rendering="crispEdges"/>
<rect x="1267.6" y="143.5" width="36.8" height="469" fill="none" stroke="#000" stroke-width="1.2"/>
<g font-size="24"><text x="783.4" y="640.7" text-anchor="end">45</text><text x="783.4" y="501.7" text-anchor="end">50</text><text x="783.4" y="362.8" text-anchor="end">55</text><text x="783.4" y="223.8" text-anchor="end">60</text><text x="783.4" y="84.9" text-anchor="end">65</text><text x="802.4" y="670.7" text-anchor="middle">145</text><text x="971.2" y="670.7" text-anchor="middle">146</text><text x="1140.0" y="670.7" text-anchor="middle">147</text><text x="1308.8" y="670.7" text-anchor="middle">148</text><text x="1477.6" y="670.7" text-anchor="middle">149</text><text x="1646.4" y="670.7" text-anchor="middle">150</text></g>
<text x="1225.3" y="723.8" font-size="37" text-anchor="middle">Time/s</text>
<g transform="translate(745 574.2) rotate(-90)"><text x="0" y="0" font-size="37">Instantaneous speed/</text></g>
<g transform="translate(743.6 271.3) rotate(-90) scale(1.28 1)"><text x="0" y="0" font-size="30.4" style="font-family:&quot;Noto Serif CJK SC&quot;,serif">（</text></g>
<g transform="translate(745 229.3) rotate(-90)"><text x="0" y="0" font-size="37">r/min)</text></g>
<polygon points="1112.5,667.1 1042.3,726.4 1053.9,736.9 976.1,846.0 985.2,853.5 1064.8,744.4 1078.4,752.6" fill="#0018c0"/>
</svg></body></html>
